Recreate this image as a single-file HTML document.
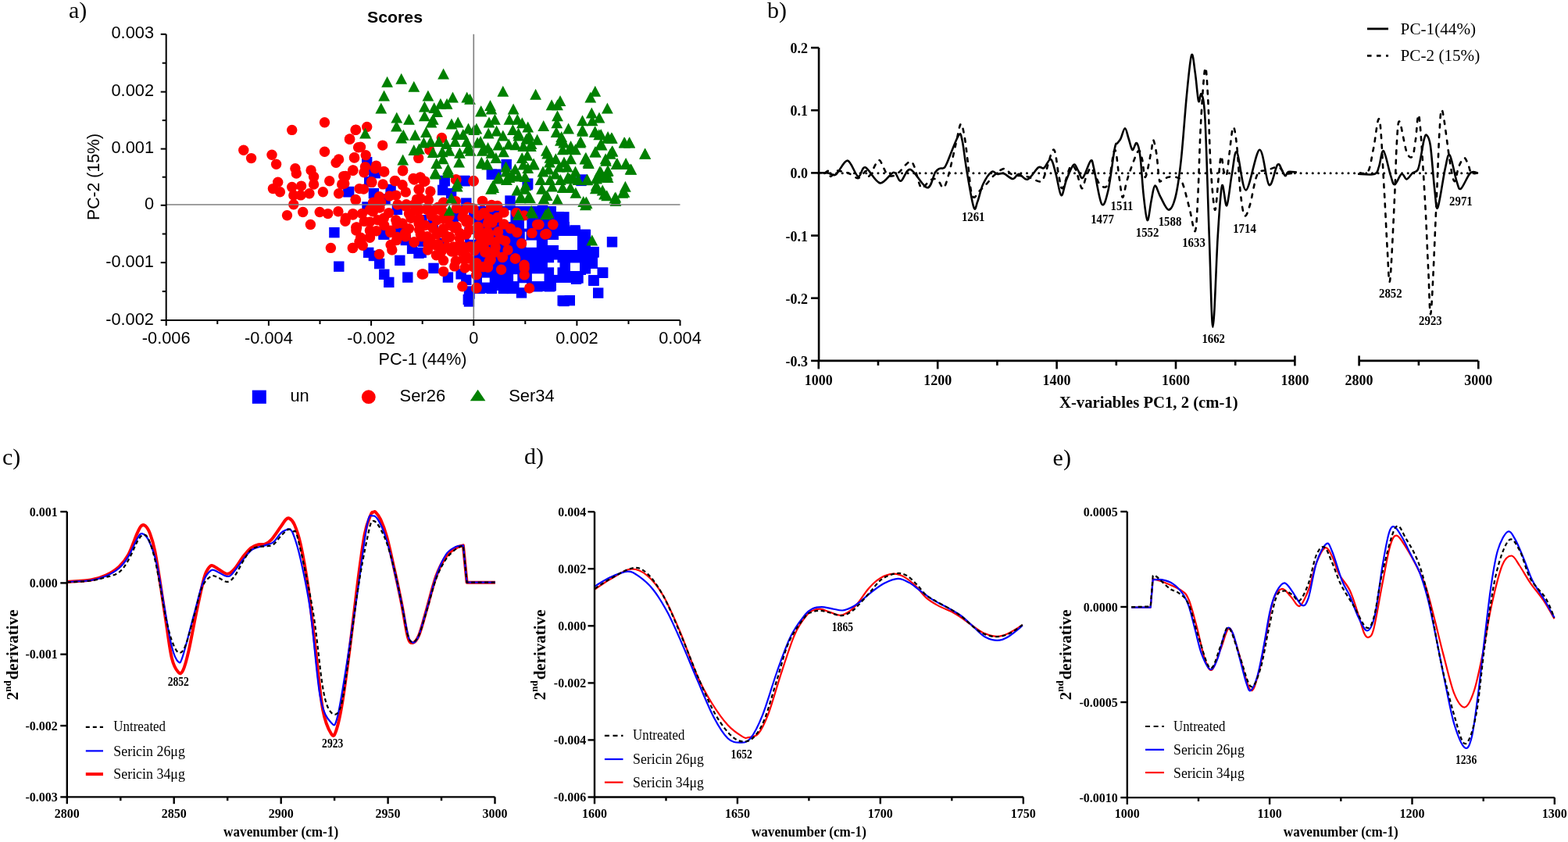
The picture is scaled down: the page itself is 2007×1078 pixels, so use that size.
<!DOCTYPE html>
<html><head><meta charset="utf-8"><title>Figure</title>
<style>html,body{margin:0;padding:0;background:#fff;overflow:hidden}svg{display:block}</style>
</head><body>
<svg width="2007" height="1078" viewBox="0 0 2007 1078">
<rect width="2007" height="1078" fill="#fff"/>
<text x="88" y="22.9" font-family="'Liberation Serif', 'Times New Roman', Times, serif" font-size="30">a)</text>
<text x="505.5" y="29.2" font-family="'Liberation Sans', Arial, Helvetica, sans-serif" font-size="20.5" text-anchor="middle" font-weight="bold" textLength="71" lengthAdjust="spacingAndGlyphs">Scores</text>
<g fill="#0000ff">
<path d="M606 264L712 264L712 271L722 271L722 284L729 284L729 290L743 290L743 296L756 296L756 316L765 316L765 344L750 344L750 352L743 352L743 362L712 362L712 372L606 372Z"/>
<rect x="421.2" y="291" width="13.4" height="13.4"/>
<rect x="427.1" y="334.5" width="13.4" height="13.4"/>
<rect x="463" y="200.9" width="13.4" height="13.4"/>
<rect x="473.3" y="212.8" width="13.4" height="13.4"/>
<rect x="562.4" y="224.7" width="13.4" height="13.4"/>
<rect x="587.6" y="224.7" width="13.4" height="13.4"/>
<rect x="466" y="226.1" width="13.4" height="13.4"/>
<rect x="473.4" y="215" width="13.4" height="13.4"/>
<rect x="641.5" y="203.9" width="13.4" height="13.4"/>
<rect x="628.2" y="216.5" width="13.4" height="13.4"/>
<rect x="669" y="228.4" width="13.4" height="13.4"/>
<rect x="737.3" y="224.7" width="13.4" height="13.4"/>
<rect x="668.4" y="230" width="13.4" height="13.4"/>
<rect x="738.5" y="223.3" width="13.4" height="13.4"/>
<rect x="439.1" y="239" width="13.4" height="13.4"/>
<rect x="471.7" y="213.3" width="13.4" height="13.4"/>
<rect x="440" y="238.8" width="13.4" height="13.4"/>
<rect x="471.7" y="240.9" width="13.4" height="13.4"/>
<rect x="493.4" y="235.8" width="13.4" height="13.4"/>
<rect x="501.7" y="261.7" width="13.4" height="13.4"/>
<rect x="484.2" y="293.4" width="13.4" height="13.4"/>
<rect x="504.3" y="291.8" width="13.4" height="13.4"/>
<rect x="463.3" y="258.3" width="13.4" height="13.4"/>
<rect x="531.8" y="275.1" width="13.4" height="13.4"/>
<rect x="486.3" y="248.3" width="13.4" height="13.4"/>
<rect x="562.5" y="225" width="13.4" height="13.4"/>
<rect x="588.4" y="225" width="13.4" height="13.4"/>
<rect x="560" y="236.7" width="13.4" height="13.4"/>
<rect x="570.9" y="240.9" width="13.4" height="13.4"/>
<rect x="590.1" y="253.4" width="13.4" height="13.4"/>
<rect x="580.1" y="269.2" width="13.4" height="13.4"/>
<rect x="573.4" y="272.6" width="13.4" height="13.4"/>
<rect x="600.1" y="271.7" width="13.4" height="13.4"/>
<rect x="613.5" y="276.7" width="13.4" height="13.4"/>
<rect x="547.5" y="280.9" width="13.4" height="13.4"/>
<rect x="533.3" y="275.1" width="13.4" height="13.4"/>
<rect x="594.3" y="290.9" width="13.4" height="13.4"/>
<rect x="622.6" y="216.6" width="13.4" height="13.4"/>
<rect x="465" y="316.7" width="13.4" height="13.4"/>
<rect x="471.7" y="320.8" width="13.4" height="13.4"/>
<rect x="479" y="330.9" width="13.4" height="13.4"/>
<rect x="485.1" y="344.6" width="13.4" height="13.4"/>
<rect x="491.1" y="354.7" width="13.4" height="13.4"/>
<rect x="505.1" y="326.7" width="13.4" height="13.4"/>
<rect x="515.1" y="348.4" width="13.4" height="13.4"/>
<rect x="485.1" y="293.3" width="13.4" height="13.4"/>
<rect x="520.9" y="311.7" width="13.4" height="13.4"/>
<rect x="529.3" y="317.5" width="13.4" height="13.4"/>
<rect x="512.6" y="300.8" width="13.4" height="13.4"/>
<rect x="505.1" y="290" width="13.4" height="13.4"/>
<rect x="532.5" y="316.7" width="13.4" height="13.4"/>
<rect x="535" y="302.5" width="13.4" height="13.4"/>
<rect x="548.3" y="336.7" width="13.4" height="13.4"/>
<rect x="566.7" y="348.4" width="13.4" height="13.4"/>
<rect x="583.4" y="344.2" width="13.4" height="13.4"/>
<rect x="590.1" y="351.7" width="13.4" height="13.4"/>
<rect x="605.9" y="323.4" width="13.4" height="13.4"/>
<rect x="619.3" y="303.3" width="13.4" height="13.4"/>
<rect x="606.8" y="361.8" width="13.4" height="13.4"/>
<rect x="620.1" y="361.8" width="13.4" height="13.4"/>
<rect x="594.3" y="369.3" width="13.4" height="13.4"/>
<rect x="592.6" y="376.8" width="13.4" height="13.4"/>
<rect x="595.1" y="298.3" width="13.4" height="13.4"/>
<rect x="621.8" y="350.1" width="13.4" height="13.4"/>
<rect x="560.9" y="305" width="13.4" height="13.4"/>
<rect x="593.8" y="366.3" width="13.4" height="13.4"/>
<rect x="593.8" y="379.3" width="13.4" height="13.4"/>
<rect x="607.4" y="362.7" width="13.4" height="13.4"/>
<rect x="622.6" y="362.7" width="13.4" height="13.4"/>
<rect x="637.8" y="362.7" width="13.4" height="13.4"/>
<rect x="648.2" y="362.7" width="13.4" height="13.4"/>
<rect x="660.8" y="368.2" width="13.4" height="13.4"/>
<rect x="681.2" y="360.1" width="13.4" height="13.4"/>
<rect x="696.8" y="360.1" width="13.4" height="13.4"/>
<rect x="713.5" y="378.2" width="13.4" height="13.4"/>
<rect x="715.2" y="271.2" width="13.4" height="13.4"/>
<rect x="712.3" y="279.3" width="13.4" height="13.4"/>
<rect x="729.3" y="288.2" width="13.4" height="13.4"/>
<rect x="742.7" y="294.2" width="13.4" height="13.4"/>
<rect x="776.8" y="303.1" width="13.4" height="13.4"/>
<rect x="730.8" y="304.6" width="13.4" height="13.4"/>
<rect x="753.1" y="316.4" width="13.4" height="13.4"/>
<rect x="743.3" y="316.3" width="13.4" height="13.4"/>
<rect x="720.4" y="322.4" width="13.4" height="13.4"/>
<rect x="702.6" y="316.4" width="13.4" height="13.4"/>
<rect x="687.8" y="313.5" width="13.4" height="13.4"/>
<rect x="687.8" y="329.8" width="13.4" height="13.4"/>
<rect x="713" y="341.7" width="13.4" height="13.4"/>
<rect x="730.8" y="350.6" width="13.4" height="13.4"/>
<rect x="742.7" y="337.2" width="13.4" height="13.4"/>
<rect x="753.1" y="352.1" width="13.4" height="13.4"/>
<rect x="765" y="342.4" width="13.4" height="13.4"/>
<rect x="759" y="368.4" width="13.4" height="13.4"/>
<rect x="698.1" y="359.5" width="13.4" height="13.4"/>
<rect x="684.8" y="359.5" width="13.4" height="13.4"/>
<rect x="715.2" y="378.8" width="13.4" height="13.4"/>
<rect x="722.6" y="378" width="13.4" height="13.4"/>
<rect x="701.1" y="292.7" width="13.4" height="13.4"/>
<rect x="687.8" y="263" width="13.4" height="13.4"/>
<rect x="698.1" y="334.3" width="13.4" height="13.4"/>
<rect x="646.3" y="250.3" width="13.4" height="13.4"/>
<rect x="742.2" y="293.6" width="13.4" height="13.4"/>
<rect x="753.3" y="315.9" width="13.4" height="13.4"/>
<rect x="737.8" y="315.9" width="13.4" height="13.4"/>
<rect x="742.2" y="335.9" width="13.4" height="13.4"/>
<rect x="764.5" y="342.6" width="13.4" height="13.4"/>
<rect x="753.3" y="352.6" width="13.4" height="13.4"/>
<rect x="733.3" y="349.3" width="13.4" height="13.4"/>
</g>
<g fill="#fff">
<rect x="680.9" y="350.4" width="15.6" height="9.7"/>
<rect x="709.1" y="332.6" width="4.4" height="19.3"/>
<rect x="700.9" y="336.3" width="15.6" height="6"/>
<rect x="657.1" y="351.2" width="5.2" height="8.9"/>
<rect x="617" y="355.6" width="9.7" height="6"/>
<rect x="664.6" y="362.3" width="9.6" height="5.9"/>
<rect x="715" y="302" width="24" height="18"/>
<rect x="701" y="307" width="14" height="7"/>
<rect x="730" y="336.5" width="12" height="10.5"/>
<rect x="640" y="269.2" width="13.4" height="15"/>
<rect x="671" y="281.7" width="3.3" height="10.9"/>
<rect x="671.8" y="296.7" width="1.7" height="10.1"/>
<rect x="673.5" y="307.6" width="13.3" height="9.2"/>
<rect x="600.5" y="300" width="7.8" height="6.8"/>
<rect x="610.9" y="275" width="3.3" height="6.7"/>
</g>
<g fill="#ff0000">
<circle cx="415.5" cy="156.7" r="6.7"/>
<circle cx="373.7" cy="166.4" r="6.7"/>
<circle cx="311.8" cy="192.2" r="6.7"/>
<circle cx="321.6" cy="202.6" r="6.7"/>
<circle cx="348" cy="198.2" r="6.7"/>
<circle cx="353.6" cy="210.3" r="6.7"/>
<circle cx="415.5" cy="194.3" r="6.7"/>
<circle cx="455.1" cy="166.4" r="6.7"/>
<circle cx="447.5" cy="178.3" r="6.7"/>
<circle cx="458.6" cy="188.7" r="6.7"/>
<circle cx="433.6" cy="204" r="6.7"/>
<circle cx="430.1" cy="208.2" r="6.7"/>
<circle cx="453.7" cy="201.9" r="6.7"/>
<circle cx="377.9" cy="215.8" r="6.7"/>
<circle cx="379.3" cy="222.1" r="6.7"/>
<circle cx="398.1" cy="217.9" r="6.7"/>
<circle cx="401.6" cy="226.3" r="6.7"/>
<circle cx="401.6" cy="236" r="6.7"/>
<circle cx="421.7" cy="231.8" r="6.7"/>
<circle cx="439.8" cy="225.6" r="6.7"/>
<circle cx="437.7" cy="236" r="6.7"/>
<circle cx="355.7" cy="233.2" r="6.7"/>
<circle cx="349.4" cy="241.6" r="6.7"/>
<circle cx="358.4" cy="245.7" r="6.7"/>
<circle cx="373.7" cy="239.5" r="6.7"/>
<circle cx="375.8" cy="249.9" r="6.7"/>
<circle cx="385.6" cy="238.1" r="6.7"/>
<circle cx="384.9" cy="249.9" r="6.7"/>
<circle cx="396" cy="247.8" r="6.7"/>
<circle cx="413.4" cy="245.7" r="6.7"/>
<circle cx="433.6" cy="247.8" r="6.7"/>
<circle cx="375.8" cy="261.7" r="6.7"/>
<circle cx="367.5" cy="275.7" r="6.7"/>
<circle cx="387.7" cy="271.5" r="6.7"/>
<circle cx="409.2" cy="271.5" r="6.7"/>
<circle cx="419.7" cy="273.6" r="6.7"/>
<circle cx="432.9" cy="270.8" r="6.7"/>
<circle cx="397.4" cy="287.5" r="6.7"/>
<circle cx="423.4" cy="317.4" r="6.7"/>
<circle cx="469.7" cy="162.4" r="6.7"/>
<circle cx="455.6" cy="166.1" r="6.7"/>
<circle cx="447.7" cy="177.9" r="6.7"/>
<circle cx="461.5" cy="188.3" r="6.7"/>
<circle cx="489.7" cy="186.1" r="6.7"/>
<circle cx="453.4" cy="201.7" r="6.7"/>
<circle cx="468.2" cy="198.7" r="6.7"/>
<circle cx="467.5" cy="213.6" r="6.7"/>
<circle cx="481.5" cy="212.1" r="6.7"/>
<circle cx="535.7" cy="202.4" r="6.7"/>
<circle cx="565.4" cy="176.5" r="6.7"/>
<circle cx="549.8" cy="192" r="6.7"/>
<circle cx="707.7" cy="287.6" r="6.7"/>
<circle cx="451.9" cy="218" r="6.7"/>
<circle cx="491.2" cy="219.5" r="6.7"/>
<circle cx="515.7" cy="218" r="6.7"/>
<circle cx="475.6" cy="232.8" r="6.7"/>
<circle cx="505.3" cy="231.4" r="6.7"/>
<circle cx="529" cy="228.4" r="6.7"/>
<circle cx="537.9" cy="226.9" r="6.7"/>
<circle cx="543.9" cy="232.1" r="6.7"/>
<circle cx="584" cy="229.9" r="6.7"/>
<circle cx="606.2" cy="231.4" r="6.7"/>
<circle cx="442.2" cy="225.4" r="6.7"/>
<circle cx="451.3" cy="317.4" r="6.7"/>
<circle cx="460" cy="309.4" r="6.7"/>
<circle cx="455.8" cy="291.2" r="6.7"/>
<circle cx="441.9" cy="283.3" r="6.7"/>
<circle cx="451.7" cy="273.6" r="6.7"/>
<circle cx="455.1" cy="255.5" r="6.7"/>
<circle cx="460" cy="241.6" r="6.7"/>
<circle cx="451.7" cy="218.3" r="6.7"/>
<circle cx="465.9" cy="220.8" r="6.7"/>
<circle cx="441.7" cy="225.9" r="6.7"/>
<circle cx="440.8" cy="235" r="6.7"/>
<circle cx="480.1" cy="215.8" r="6.7"/>
<circle cx="491.8" cy="220" r="6.7"/>
<circle cx="515.5" cy="218.8" r="6.7"/>
<circle cx="475.9" cy="233.4" r="6.7"/>
<circle cx="465.5" cy="242.1" r="6.7"/>
<circle cx="490.1" cy="235.9" r="6.7"/>
<circle cx="505.9" cy="231.7" r="6.7"/>
<circle cx="515.1" cy="236.7" r="6.7"/>
<circle cx="530.2" cy="230" r="6.7"/>
<circle cx="537.7" cy="227.5" r="6.7"/>
<circle cx="536" cy="242.5" r="6.7"/>
<circle cx="519.3" cy="245.9" r="6.7"/>
<circle cx="506.8" cy="250.1" r="6.7"/>
<circle cx="498.4" cy="250.9" r="6.7"/>
<circle cx="485.5" cy="251.7" r="6.7"/>
<circle cx="455.4" cy="255.9" r="6.7"/>
<circle cx="477.6" cy="259.2" r="6.7"/>
<circle cx="487.6" cy="259.2" r="6.7"/>
<circle cx="520.1" cy="261.7" r="6.7"/>
<circle cx="533.5" cy="255.1" r="6.7"/>
<circle cx="473.4" cy="268.4" r="6.7"/>
<circle cx="497.6" cy="272.6" r="6.7"/>
<circle cx="442.5" cy="279.3" r="6.7"/>
<circle cx="451.7" cy="275.1" r="6.7"/>
<circle cx="463.4" cy="273.4" r="6.7"/>
<circle cx="456.7" cy="291" r="6.7"/>
<circle cx="473.4" cy="284.3" r="6.7"/>
<circle cx="483.4" cy="281.8" r="6.7"/>
<circle cx="473.4" cy="295.1" r="6.7"/>
<circle cx="491.8" cy="288.5" r="6.7"/>
<circle cx="500.1" cy="295.1" r="6.7"/>
<circle cx="506.8" cy="281.8" r="6.7"/>
<circle cx="515.1" cy="286" r="6.7"/>
<circle cx="523.5" cy="273.4" r="6.7"/>
<circle cx="531.8" cy="269.3" r="6.7"/>
<circle cx="523.5" cy="292.6" r="6.7"/>
<circle cx="536" cy="286" r="6.7"/>
<circle cx="518.5" cy="298.5" r="6.7"/>
<circle cx="508.4" cy="303.5" r="6.7"/>
<circle cx="461.7" cy="304.3" r="6.7"/>
<circle cx="473.4" cy="303.5" r="6.7"/>
<circle cx="486" cy="266" r="6.7"/>
<circle cx="509" cy="262" r="6.7"/>
<circle cx="538.3" cy="227.5" r="6.7"/>
<circle cx="542.5" cy="232.5" r="6.7"/>
<circle cx="550.9" cy="245" r="6.7"/>
<circle cx="536.7" cy="242.5" r="6.7"/>
<circle cx="548.4" cy="255.9" r="6.7"/>
<circle cx="538.3" cy="254.2" r="6.7"/>
<circle cx="583.4" cy="230" r="6.7"/>
<circle cx="606" cy="232.1" r="6.7"/>
<circle cx="567.6" cy="259.2" r="6.7"/>
<circle cx="583.4" cy="257.6" r="6.7"/>
<circle cx="598.4" cy="265.1" r="6.7"/>
<circle cx="606" cy="267.6" r="6.7"/>
<circle cx="617.6" cy="257.6" r="6.7"/>
<circle cx="620.2" cy="273.4" r="6.7"/>
<circle cx="628.5" cy="265.1" r="6.7"/>
<circle cx="536.7" cy="268.4" r="6.7"/>
<circle cx="546.7" cy="268.4" r="6.7"/>
<circle cx="557.5" cy="268.4" r="6.7"/>
<circle cx="565.9" cy="270.1" r="6.7"/>
<circle cx="584.3" cy="266.8" r="6.7"/>
<circle cx="593.4" cy="270.1" r="6.7"/>
<circle cx="536.7" cy="280.1" r="6.7"/>
<circle cx="544.2" cy="288.5" r="6.7"/>
<circle cx="536.7" cy="294.3" r="6.7"/>
<circle cx="559.2" cy="281.8" r="6.7"/>
<circle cx="567.6" cy="280.1" r="6.7"/>
<circle cx="575.9" cy="288.5" r="6.7"/>
<circle cx="567.6" cy="292.6" r="6.7"/>
<circle cx="559.2" cy="298.5" r="6.7"/>
<circle cx="584.3" cy="290.1" r="6.7"/>
<circle cx="588.4" cy="298.5" r="6.7"/>
<circle cx="596.8" cy="284.3" r="6.7"/>
<circle cx="601" cy="294.3" r="6.7"/>
<circle cx="611.8" cy="290.1" r="6.7"/>
<circle cx="624.3" cy="286" r="6.7"/>
<circle cx="613.5" cy="301.8" r="6.7"/>
<circle cx="575.9" cy="303.5" r="6.7"/>
<circle cx="546.7" cy="302.6" r="6.7"/>
<circle cx="552" cy="276" r="6.7"/>
<circle cx="530" cy="262" r="6.7"/>
<circle cx="575" cy="277" r="6.7"/>
<circle cx="592" cy="278" r="6.7"/>
<circle cx="455.9" cy="295" r="6.7"/>
<circle cx="473.4" cy="304.2" r="6.7"/>
<circle cx="461.7" cy="308.8" r="6.7"/>
<circle cx="464.2" cy="314.2" r="6.7"/>
<circle cx="451.7" cy="317.5" r="6.7"/>
<circle cx="485.5" cy="325.5" r="6.7"/>
<circle cx="499.7" cy="297.5" r="6.7"/>
<circle cx="507.6" cy="307.5" r="6.7"/>
<circle cx="500.1" cy="313.4" r="6.7"/>
<circle cx="501.8" cy="320" r="6.7"/>
<circle cx="519.3" cy="300" r="6.7"/>
<circle cx="530.2" cy="310" r="6.7"/>
<circle cx="540.2" cy="351" r="6.7"/>
<circle cx="481.7" cy="295.8" r="6.7"/>
<circle cx="541.7" cy="350.9" r="6.7"/>
<circle cx="567.6" cy="347.6" r="6.7"/>
<circle cx="567.6" cy="333.4" r="6.7"/>
<circle cx="558.4" cy="326.7" r="6.7"/>
<circle cx="547.5" cy="320" r="6.7"/>
<circle cx="581.8" cy="340.9" r="6.7"/>
<circle cx="583.4" cy="334.2" r="6.7"/>
<circle cx="593.4" cy="331.7" r="6.7"/>
<circle cx="591.8" cy="366.8" r="6.7"/>
<circle cx="610.1" cy="368.5" r="6.7"/>
<circle cx="606" cy="341.7" r="6.7"/>
<circle cx="610.1" cy="350.9" r="6.7"/>
<circle cx="618.5" cy="341.7" r="6.7"/>
<circle cx="626" cy="335.1" r="6.7"/>
<circle cx="621.8" cy="320.9" r="6.7"/>
<circle cx="611.8" cy="315.9" r="6.7"/>
<circle cx="530" cy="310" r="6.7"/>
<circle cx="538.3" cy="300" r="6.7"/>
<circle cx="550.9" cy="307.5" r="6.7"/>
<circle cx="559.2" cy="300" r="6.7"/>
<circle cx="571.7" cy="305" r="6.7"/>
<circle cx="580.1" cy="315.9" r="6.7"/>
<circle cx="588.4" cy="305" r="6.7"/>
<circle cx="592.6" cy="315.9" r="6.7"/>
<circle cx="601" cy="315.9" r="6.7"/>
<circle cx="596.8" cy="300" r="6.7"/>
<circle cx="613.5" cy="300" r="6.7"/>
<circle cx="626" cy="300" r="6.7"/>
<circle cx="571.7" cy="316.7" r="6.7"/>
<circle cx="565.1" cy="321.7" r="6.7"/>
<circle cx="617.5" cy="257.5" r="6.7"/>
<circle cx="636.7" cy="263.4" r="6.7"/>
<circle cx="629.2" cy="262.5" r="6.7"/>
<circle cx="605" cy="266.7" r="6.7"/>
<circle cx="619.2" cy="272.5" r="6.7"/>
<circle cx="636.7" cy="278.4" r="6.7"/>
<circle cx="630" cy="285.1" r="6.7"/>
<circle cx="612.5" cy="291.7" r="6.7"/>
<circle cx="600" cy="283.4" r="6.7"/>
<circle cx="624.2" cy="296.7" r="6.7"/>
<circle cx="637.6" cy="296.7" r="6.7"/>
<circle cx="613.4" cy="301.8" r="6.7"/>
<circle cx="646.7" cy="308.4" r="6.7"/>
<circle cx="653.4" cy="292.6" r="6.7"/>
<circle cx="661.8" cy="297.6" r="6.7"/>
<circle cx="613.4" cy="313.4" r="6.7"/>
<circle cx="602.5" cy="316" r="6.7"/>
<circle cx="621.7" cy="321" r="6.7"/>
<circle cx="634.2" cy="316.8" r="6.7"/>
<circle cx="643.4" cy="329.3" r="6.7"/>
<circle cx="627.5" cy="332.6" r="6.7"/>
<circle cx="610" cy="336.8" r="6.7"/>
<circle cx="667.6" cy="311.8" r="6.7"/>
<circle cx="659.7" cy="331" r="6.7"/>
<circle cx="681" cy="298.4" r="6.7"/>
<circle cx="687.6" cy="287.6" r="6.7"/>
<circle cx="697.7" cy="300.1" r="6.7"/>
<circle cx="660.9" cy="272.5" r="6.7"/>
<circle cx="671" cy="275.9" r="6.7"/>
<circle cx="671" cy="339.3" r="6.7"/>
<circle cx="659.4" cy="331.1" r="6.7"/>
<circle cx="671.2" cy="343" r="6.7"/>
<circle cx="671.2" cy="351.9" r="6.7"/>
<circle cx="677.6" cy="369" r="6.7"/>
<circle cx="609.6" cy="369" r="6.7"/>
<circle cx="609.6" cy="351.9" r="6.7"/>
<circle cx="608.9" cy="340.8" r="6.7"/>
<circle cx="624.5" cy="342.3" r="6.7"/>
<circle cx="641.6" cy="345.2" r="6.7"/>
<circle cx="628.2" cy="332.6" r="6.7"/>
<circle cx="643" cy="329.6" r="6.7"/>
<circle cx="620.8" cy="323" r="6.7"/>
<circle cx="633.4" cy="323" r="6.7"/>
<circle cx="600" cy="331.1" r="6.7"/>
<circle cx="607.4" cy="320.7" r="6.7"/>
<circle cx="690" cy="287.5" r="6.7"/>
<circle cx="707.8" cy="287.5" r="6.7"/>
<circle cx="699.6" cy="299.4" r="6.7"/>
<circle cx="558" cy="314" r="6.7"/>
<circle cx="578" cy="322" r="6.7"/>
<circle cx="588" cy="320" r="6.7"/>
<circle cx="548" cy="312" r="6.7"/>
<circle cx="613" cy="276" r="6.7"/>
<circle cx="645" cy="272" r="6.7"/>
<circle cx="626" cy="280" r="6.7"/>
<circle cx="645" cy="287" r="6.7"/>
<circle cx="622" cy="309" r="6.7"/>
<circle cx="640" cy="306" r="6.7"/>
<circle cx="650" cy="320" r="6.7"/>
<circle cx="633" cy="310" r="6.7"/>
<circle cx="571" cy="302" r="6.7"/>
<circle cx="593" cy="325" r="6.7"/>
<circle cx="595" cy="343" r="6.7"/>
<circle cx="597" cy="281" r="6.7"/>
<circle cx="526" cy="279.2" r="6.7"/>
<circle cx="508" cy="286.2" r="6.7"/>
<circle cx="466.3" cy="283.4" r="6.7"/>
<circle cx="477.4" cy="270.9" r="6.7"/>
<circle cx="491.3" cy="279.2" r="6.7"/>
<circle cx="519.1" cy="302.9" r="6.7"/>
<circle cx="540" cy="302.9" r="6.7"/>
<circle cx="553.9" cy="291.7" r="6.7"/>
<circle cx="581.7" cy="291.7" r="6.7"/>
<circle cx="560.9" cy="312.6" r="6.7"/>
<circle cx="588.7" cy="312.6" r="6.7"/>
<circle cx="595.7" cy="326.5" r="6.7"/>
<circle cx="581.7" cy="322.3" r="6.7"/>
<circle cx="519.1" cy="263.9" r="6.7"/>
<circle cx="533" cy="262.5" r="6.7"/>
<circle cx="547" cy="266.7" r="6.7"/>
<circle cx="560.9" cy="265.3" r="6.7"/>
</g>
<g fill="#008000">
<path d="M567.6 87.4L575 101.4L560.2 101.4Z"/>
<path d="M495.6 97.8L503 111.8L488.2 111.8Z"/>
<path d="M513.7 93.8L521.1 107.8L506.3 107.8Z"/>
<path d="M529.8 103.7L537.2 117.7L522.4 117.7Z"/>
<path d="M491.6 115.6L499 129.6L484.2 129.6Z"/>
<path d="M487.8 131.6L495.2 145.6L480.4 145.6Z"/>
<path d="M547.9 115.6L555.3 129.6L540.5 129.6Z"/>
<path d="M579.5 117.5L586.9 131.5L572.1 131.5Z"/>
<path d="M597.7 117.5L605.1 131.5L590.3 131.5Z"/>
<path d="M563.9 125.7L571.3 139.7L556.5 139.7Z"/>
<path d="M572.1 125.7L579.5 139.7L564.7 139.7Z"/>
<path d="M543.4 129.4L550.8 143.4L536 143.4Z"/>
<path d="M555.7 130.9L563.1 144.9L548.3 144.9Z"/>
<path d="M559.5 136.1L566.9 150.1L552.1 150.1Z"/>
<path d="M543.4 141.3L550.8 155.3L536 155.3Z"/>
<path d="M554.3 145.7L561.7 159.7L546.9 159.7Z"/>
<path d="M507.8 143.5L515.2 157.5L500.4 157.5Z"/>
<path d="M523.5 145.7L530.9 159.7L516.1 159.7Z"/>
<path d="M507.5 154.6L514.9 168.6L500.1 168.6Z"/>
<path d="M578 151.6L585.4 165.6L570.6 165.6Z"/>
<path d="M586.2 149.4L593.6 163.4L578.8 163.4Z"/>
<path d="M615.8 135.3L623.2 149.3L608.4 149.3Z"/>
<path d="M467.5 163.5L474.9 177.5L460.1 177.5Z"/>
<path d="M516.4 165.7L523.8 179.7L509 179.7Z"/>
<path d="M513.7 169.5L521.1 183.5L506.3 183.5Z"/>
<path d="M531.3 165.7L538.7 179.7L523.9 179.7Z"/>
<path d="M545.4 162L552.8 176L538 176Z"/>
<path d="M552 149.4L559.4 163.4L544.6 163.4Z"/>
<path d="M599.5 157.6L606.9 171.6L592.1 171.6Z"/>
<path d="M609.9 157.6L617.3 171.6L602.5 171.6Z"/>
<path d="M584.7 165L592.1 179L577.3 179Z"/>
<path d="M592.8 165L600.2 179L585.4 179Z"/>
<path d="M542.4 175.4L549.8 189.4L535 189.4Z"/>
<path d="M551.3 173.9L558.7 187.9L543.9 187.9Z"/>
<path d="M561.7 173.9L569.1 187.9L554.3 187.9Z"/>
<path d="M571.3 176.9L578.7 190.9L563.9 190.9Z"/>
<path d="M582.5 173.9L589.9 187.9L575.1 187.9Z"/>
<path d="M597.3 173.9L604.7 187.9L589.9 187.9Z"/>
<path d="M615.1 173.9L622.5 187.9L607.7 187.9Z"/>
<path d="M529.8 185L537.2 199L522.4 199Z"/>
<path d="M536.5 183.5L543.9 197.5L529.1 197.5Z"/>
<path d="M554.3 188L561.7 202L546.9 202Z"/>
<path d="M566.1 187.3L573.5 201.3L558.7 201.3Z"/>
<path d="M575 185.8L582.4 199.8L567.6 199.8Z"/>
<path d="M588.4 188.7L595.8 202.7L581 202.7Z"/>
<path d="M598.8 182.8L606.2 196.8L591.4 196.8Z"/>
<path d="M617.3 185.8L624.7 199.8L609.9 199.8Z"/>
<path d="M515.7 197.6L523.1 211.6L508.3 211.6Z"/>
<path d="M558.7 202.1L566.1 216.1L551.3 216.1Z"/>
<path d="M566.9 196.2L574.3 210.2L559.5 210.2Z"/>
<path d="M587.6 200.6L595 214.6L580.2 214.6Z"/>
<path d="M616.6 202.1L624 216.1L609.2 216.1Z"/>
<path d="M573.5 209.5L580.9 223.5L566.1 223.5Z"/>
<path d="M557.2 214L564.6 228L549.8 228Z"/>
<path d="M585.4 227.3L592.8 241.3L578 241.3Z"/>
<path d="M643.8 109.8L651.2 123.8L636.4 123.8Z"/>
<path d="M685.6 113.8L693 127.8L678.2 127.8Z"/>
<path d="M761.8 109.8L769.2 123.8L754.4 123.8Z"/>
<path d="M755.8 117.5L763.2 131.5L748.4 131.5Z"/>
<path d="M717 122L724.4 136L709.6 136Z"/>
<path d="M706.1 127.2L713.5 141.2L698.7 141.2Z"/>
<path d="M713.5 127.2L720.9 141.2L706.1 141.2Z"/>
<path d="M777.4 131.6L784.8 145.6L770 145.6Z"/>
<path d="M601.5 119.8L608.9 133.8L594.1 133.8Z"/>
<path d="M627.5 127.9L634.9 141.9L620.1 141.9Z"/>
<path d="M615.6 135.3L623 149.3L608.2 149.3Z"/>
<path d="M628.9 132.4L636.3 146.4L621.5 146.4Z"/>
<path d="M657.1 132.4L664.5 146.4L649.7 146.4Z"/>
<path d="M757.3 137.6L764.7 151.6L749.9 151.6Z"/>
<path d="M767 143.5L774.4 157.5L759.6 157.5Z"/>
<path d="M713.5 141.3L720.9 155.3L706.1 155.3Z"/>
<path d="M745.5 147.2L752.9 161.2L738.1 161.2Z"/>
<path d="M758.1 147.2L765.5 161.2L750.7 161.2Z"/>
<path d="M626 149.4L633.4 163.4L618.6 163.4Z"/>
<path d="M633.4 145.7L640.8 159.7L626 159.7Z"/>
<path d="M651.9 145.7L659.3 159.7L644.5 159.7Z"/>
<path d="M662.3 145.7L669.7 159.7L654.9 159.7Z"/>
<path d="M668.3 150.2L675.7 164.2L660.9 164.2Z"/>
<path d="M675.7 155.4L683.1 169.4L668.3 169.4Z"/>
<path d="M695.7 153.9L703.1 167.9L688.3 167.9Z"/>
<path d="M712.8 150.2L720.2 164.2L705.4 164.2Z"/>
<path d="M727.6 157.6L735 171.6L720.2 171.6Z"/>
<path d="M745.5 159.1L752.9 173.1L738.1 173.1Z"/>
<path d="M761.8 161.3L769.2 175.3L754.4 175.3Z"/>
<path d="M769.2 165L776.6 179L761.8 179Z"/>
<path d="M778.1 168L785.5 182L770.7 182Z"/>
<path d="M782.6 169.5L790 183.5L775.2 183.5Z"/>
<path d="M799.6 175.4L807 189.4L792.2 189.4Z"/>
<path d="M805.6 175.4L813 189.4L798.2 189.4Z"/>
<path d="M825.6 189.5L833 203.5L818.2 203.5Z"/>
<path d="M606.7 159.1L614.1 173.1L599.3 173.1Z"/>
<path d="M625.2 163.5L632.6 177.5L617.8 177.5Z"/>
<path d="M635.6 160.6L643 174.6L628.2 174.6Z"/>
<path d="M643.8 166.5L651.2 180.5L636.4 180.5Z"/>
<path d="M656.4 159.1L663.8 173.1L649 173.1Z"/>
<path d="M663.8 166.5L671.2 180.5L656.4 180.5Z"/>
<path d="M677.2 166.5L684.6 180.5L669.8 180.5Z"/>
<path d="M687.6 171.7L695 185.7L680.2 185.7Z"/>
<path d="M712.1 162L719.5 176L704.7 176Z"/>
<path d="M718.7 168L726.1 182L711.3 182Z"/>
<path d="M721.7 175.4L729.1 189.4L714.3 189.4Z"/>
<path d="M730.6 179.9L738 193.9L723.2 193.9Z"/>
<path d="M742.5 175.4L749.9 189.4L735.1 189.4Z"/>
<path d="M769.2 176.9L776.6 190.9L761.8 190.9Z"/>
<path d="M784 186.5L791.4 200.5L776.6 200.5Z"/>
<path d="M611.1 175.4L618.5 189.4L603.7 189.4Z"/>
<path d="M619.3 182.8L626.7 196.8L611.9 196.8Z"/>
<path d="M637.8 178.4L645.2 192.4L630.4 192.4Z"/>
<path d="M651.2 177.6L658.6 191.6L643.8 191.6Z"/>
<path d="M669.8 179.9L677.2 193.9L662.4 193.9Z"/>
<path d="M680.1 176.9L687.5 190.9L672.7 190.9Z"/>
<path d="M699.4 185.8L706.8 199.8L692 199.8Z"/>
<path d="M720.2 184.3L727.6 198.3L712.8 198.3Z"/>
<path d="M736.5 184.3L743.9 198.3L729.1 198.3Z"/>
<path d="M761.8 187.3L769.2 201.3L754.4 201.3Z"/>
<path d="M775.1 196.2L782.5 210.2L767.7 210.2Z"/>
<path d="M602.2 185.8L609.6 199.8L594.8 199.8Z"/>
<path d="M628.9 188.7L636.3 202.7L621.5 202.7Z"/>
<path d="M644.5 187.3L651.9 201.3L637.1 201.3Z"/>
<path d="M675 191.7L682.4 205.7L667.6 205.7Z"/>
<path d="M703.9 194.7L711.3 208.7L696.5 208.7Z"/>
<path d="M711.3 196.2L718.7 210.2L703.9 210.2Z"/>
<path d="M730.6 196.2L738 210.2L723.2 210.2Z"/>
<path d="M749.9 194.7L757.3 208.7L742.5 208.7Z"/>
<path d="M752.9 200.6L760.3 214.6L745.5 214.6Z"/>
<path d="M790 202.1L797.4 216.1L782.6 216.1Z"/>
<path d="M801.1 202.1L808.5 216.1L793.7 216.1Z"/>
<path d="M807 209.5L814.4 223.5L799.6 223.5Z"/>
<path d="M616.3 200.6L623.7 214.6L608.9 214.6Z"/>
<path d="M623.7 203.6L631.1 217.6L616.3 217.6Z"/>
<path d="M647.5 206.6L654.9 220.6L640.1 220.6Z"/>
<path d="M659.4 209.5L666.8 223.5L652 223.5Z"/>
<path d="M669.8 203.6L677.2 217.6L662.4 217.6Z"/>
<path d="M683.1 203.6L690.5 217.6L675.7 217.6Z"/>
<path d="M695 212.5L702.4 226.5L687.6 226.5Z"/>
<path d="M702.4 209.5L709.8 223.5L695 223.5Z"/>
<path d="M715.8 206.6L723.2 220.6L708.4 220.6Z"/>
<path d="M726.2 206.6L733.6 220.6L718.8 220.6Z"/>
<path d="M736.5 212.5L743.9 226.5L729.1 226.5Z"/>
<path d="M767.7 212.5L775.1 226.5L760.3 226.5Z"/>
<path d="M778.1 211L785.5 225L770.7 225Z"/>
<path d="M637.1 221.4L644.5 235.4L629.7 235.4Z"/>
<path d="M651.9 219.9L659.3 233.9L644.5 233.9Z"/>
<path d="M663.8 218.5L671.2 232.5L656.4 232.5Z"/>
<path d="M692 222.9L699.4 236.9L684.6 236.9Z"/>
<path d="M703.9 222.9L711.3 236.9L696.5 236.9Z"/>
<path d="M717.3 222.9L724.7 236.9L709.9 236.9Z"/>
<path d="M729.1 221.4L736.5 235.4L721.7 235.4Z"/>
<path d="M740 222.9L747.4 236.9L732.6 236.9Z"/>
<path d="M751.4 222.9L758.8 236.9L744 236.9Z"/>
<path d="M763.3 221.4L770.7 235.4L755.9 235.4Z"/>
<path d="M778.1 219.9L785.5 233.9L770.7 233.9Z"/>
<path d="M631.2 230.3L638.6 244.3L623.8 244.3Z"/>
<path d="M672.7 230.3L680.1 244.3L665.3 244.3Z"/>
<path d="M763.3 230.3L770.7 244.3L755.9 244.3Z"/>
<path d="M800.4 231.8L807.8 245.8L793 245.8Z"/>
<path d="M557.7 215.5L565.1 229.5L550.3 229.5Z"/>
<path d="M573.6 213.8L581 227.8L566.2 227.8Z"/>
<path d="M585.3 231.4L592.7 245.4L577.9 245.4Z"/>
<path d="M577.8 246.4L585.2 260.4L570.4 260.4Z"/>
<path d="M575.2 262.3L582.6 276.3L567.8 276.3Z"/>
<path d="M631.7 233L639.1 247L624.3 247Z"/>
<path d="M638.4 219.7L645.8 233.7L631 233.7Z"/>
<path d="M648.4 223L655.8 237L641 237Z"/>
<path d="M655.1 216.3L662.5 230.3L647.7 230.3Z"/>
<path d="M661.8 236.4L669.2 250.4L654.4 250.4Z"/>
<path d="M671.8 234.7L679.2 248.7L664.4 248.7Z"/>
<path d="M666.8 244.7L674.2 258.7L659.4 258.7Z"/>
<path d="M676.8 244.7L684.2 258.7L669.4 258.7Z"/>
<path d="M693.5 234.7L700.9 248.7L686.1 248.7Z"/>
<path d="M700.2 243.1L707.6 257.1L692.8 257.1Z"/>
<path d="M706.8 231.4L714.2 245.4L699.4 245.4Z"/>
<path d="M713.5 248.1L720.9 262.1L706.1 262.1Z"/>
<path d="M720.2 233L727.6 247L712.8 247Z"/>
<path d="M730.2 233L737.6 247L722.8 247Z"/>
<path d="M736.9 239.7L744.3 253.7L729.5 253.7Z"/>
<path d="M726.9 219.7L734.3 233.7L719.5 233.7Z"/>
<path d="M733.5 219.7L740.9 233.7L726.1 233.7Z"/>
<path d="M750.3 251.4L757.7 265.4L742.9 265.4Z"/>
<path d="M751.9 223L759.3 237L744.5 237Z"/>
<path d="M763.6 233L771 247L756.2 247Z"/>
<path d="M773.6 241.4L781 255.4L766.2 255.4Z"/>
<path d="M766.9 219.7L774.3 233.7L759.5 233.7Z"/>
<path d="M776.9 216.3L784.3 230.3L769.5 230.3Z"/>
<path d="M786.9 246.4L794.3 260.4L779.5 260.4Z"/>
<path d="M796.9 239.7L804.3 253.7L789.5 253.7Z"/>
<path d="M663.4 268.1L670.8 282.1L656 282.1Z"/>
<path d="M680.1 263.1L687.5 277.1L672.7 277.1Z"/>
<path d="M701.8 264.8L709.2 278.8L694.4 278.8Z"/>
<path d="M757.8 300.6L765.2 314.6L750.4 314.6Z"/>
<path d="M745.6 160.8L753 174.8L738.2 174.8Z"/>
<path d="M761.2 161.9L768.6 175.9L753.8 175.9Z"/>
<path d="M766.7 165.2L774.1 179.2L759.3 179.2Z"/>
<path d="M777.9 169.7L785.3 183.7L770.5 183.7Z"/>
<path d="M783.4 169.7L790.8 183.7L776 183.7Z"/>
<path d="M799 175.3L806.4 189.3L791.6 189.3Z"/>
<path d="M805.7 175.3L813.1 189.3L798.3 189.3Z"/>
<path d="M825.7 189.7L833.1 203.7L818.3 203.7Z"/>
<path d="M743.3 174.2L750.7 188.2L735.9 188.2Z"/>
<path d="M770.1 178.6L777.5 192.6L762.7 192.6Z"/>
<path d="M762.3 187.5L769.7 201.5L754.9 201.5Z"/>
<path d="M783.4 186.4L790.8 200.4L776 200.4Z"/>
<path d="M781.2 189.7L788.6 203.7L773.8 203.7Z"/>
<path d="M748.9 196.4L756.3 210.4L741.5 210.4Z"/>
<path d="M753.4 202L760.8 216L746 216Z"/>
<path d="M775.6 198.7L783 212.7L768.2 212.7Z"/>
<path d="M789 203.1L796.4 217.1L781.6 217.1Z"/>
<path d="M801.2 203.1L808.6 217.1L793.8 217.1Z"/>
<path d="M807.9 209.8L815.3 223.8L800.5 223.8Z"/>
<path d="M769 213.1L776.4 227.1L761.6 227.1Z"/>
<path d="M777.9 212L785.3 226L770.5 226Z"/>
<path d="M775.6 217.6L783 231.6L768.2 231.6Z"/>
<path d="M763.4 220.9L770.8 234.9L756 234.9Z"/>
<path d="M751.1 223.2L758.5 237.2L743.7 237.2Z"/>
<path d="M762.3 234.3L769.7 248.3L754.9 248.3Z"/>
<path d="M771.2 236.5L778.6 250.5L763.8 250.5Z"/>
<path d="M776.7 243.2L784.1 257.2L769.3 257.2Z"/>
<path d="M787.9 245.4L795.3 259.4L780.5 259.4Z"/>
<path d="M799 238.7L806.4 252.7L791.6 252.7Z"/>
<path d="M746.7 251L754.1 265L739.3 265Z"/>
<path d="M751.1 253.2L758.5 267.2L743.7 267.2Z"/>
<path d="M788 250L795.4 264L780.6 264Z"/>
<path d="M624.6 182L632 196L617.2 196Z"/>
<path d="M623.7 202.4L631.1 216.4L616.3 216.4Z"/>
<path d="M634.8 195L642.2 209L627.4 209Z"/>
<path d="M663.6 163.4L671 177.4L656.2 177.4Z"/>
<path d="M659.9 178.3L667.3 192.3L652.5 192.3Z"/>
<path d="M673.8 170.8L681.2 184.8L666.4 184.8Z"/>
<path d="M679.4 180.1L686.8 194.1L672 194.1Z"/>
<path d="M668.2 195L675.6 209L660.8 209Z"/>
<path d="M675.7 208L683.1 222L668.3 222Z"/>
<path d="M683.1 202.4L690.5 216.4L675.7 216.4Z"/>
<path d="M672 219L679.4 233L664.6 233Z"/>
<path d="M647.8 212.6L655.2 226.6L640.4 226.6Z"/>
<path d="M655.3 217.2L662.7 231.2L647.9 231.2Z"/>
<path d="M703.5 200.5L710.9 214.5L696.1 214.5Z"/>
<path d="M710.9 215.4L718.3 229.4L703.5 229.4Z"/>
<path d="M722 200.5L729.4 214.5L714.6 214.5Z"/>
<path d="M729.5 183.8L736.9 197.8L722.1 197.8Z"/>
<path d="M717.4 172.7L724.8 186.7L710 186.7Z"/>
<path d="M700.7 189.4L708.1 203.4L693.3 203.4Z"/>
<path d="M557.5 214.7L564.9 228.7L550.1 228.7Z"/>
<path d="M573.4 212.2L580.8 226.2L566 226.2Z"/>
<path d="M628.5 234.7L635.9 248.7L621.1 248.7Z"/>
<path d="M663.4 268L670.8 282L656 282Z"/>
<path d="M681.8 265.5L689.2 279.5L674.4 279.5Z"/>
<path d="M666 246.3L673.4 260.3L658.6 260.3Z"/>
<path d="M678.5 246.3L685.9 260.3L671.1 260.3Z"/>
<path d="M696 247.2L703.4 261.2L688.6 261.2Z"/>
<path d="M698.5 267.2L705.9 281.2L691.1 281.2Z"/>
<path d="M701.9 265.7L709.3 279.7L694.5 279.7Z"/>
<path d="M749.4 255.3L756.8 269.3L742 269.3Z"/>
</g>
<line x1="212.7" y1="262" x2="870.5" y2="262" stroke="#7f7f7f" stroke-width="1.6"/>
<line x1="606.3" y1="43.8" x2="606.3" y2="410" stroke="#7f7f7f" stroke-width="1.6"/>
<g stroke="#000" stroke-width="2" fill="none">
<path d="M212.7 43.8L212.7 410L870.5 410"/>
<line x1="205.7" y1="43.8" x2="212.7" y2="43.8"/>
<line x1="207.7" y1="80.7" x2="212.7" y2="80.7"/>
<line x1="205.7" y1="117.6" x2="212.7" y2="117.6"/>
<line x1="207.7" y1="154.1" x2="212.7" y2="154.1"/>
<line x1="205.7" y1="190.6" x2="212.7" y2="190.6"/>
<line x1="207.7" y1="226.7" x2="212.7" y2="226.7"/>
<line x1="205.7" y1="262.8" x2="212.7" y2="262.8"/>
<line x1="207.7" y1="299.5" x2="212.7" y2="299.5"/>
<line x1="205.7" y1="336.2" x2="212.7" y2="336.2"/>
<line x1="207.7" y1="373.1" x2="212.7" y2="373.1"/>
<line x1="205.7" y1="410" x2="212.7" y2="410"/>
<line x1="212.7" y1="410" x2="212.7" y2="417"/>
<line x1="278.3" y1="410" x2="278.3" y2="415"/>
<line x1="343.9" y1="410" x2="343.9" y2="417"/>
<line x1="409.5" y1="410" x2="409.5" y2="415"/>
<line x1="475.1" y1="410" x2="475.1" y2="417"/>
<line x1="540.7" y1="410" x2="540.7" y2="415"/>
<line x1="606.3" y1="410" x2="606.3" y2="417"/>
<line x1="672.3" y1="410" x2="672.3" y2="415"/>
<line x1="738.4" y1="410" x2="738.4" y2="417"/>
<line x1="804.5" y1="410" x2="804.5" y2="415"/>
<line x1="870.5" y1="410" x2="870.5" y2="417"/>
</g>
<text x="197" y="49.3" font-family="'Liberation Sans', Arial, Helvetica, sans-serif" font-size="21.8" text-anchor="end">0.003</text>
<text x="197" y="123.1" font-family="'Liberation Sans', Arial, Helvetica, sans-serif" font-size="21.8" text-anchor="end">0.002</text>
<text x="197" y="196.1" font-family="'Liberation Sans', Arial, Helvetica, sans-serif" font-size="21.8" text-anchor="end">0.001</text>
<text x="197" y="268.3" font-family="'Liberation Sans', Arial, Helvetica, sans-serif" font-size="21.8" text-anchor="end">0</text>
<text x="197" y="341.7" font-family="'Liberation Sans', Arial, Helvetica, sans-serif" font-size="21.8" text-anchor="end">-0.001</text>
<text x="197" y="415.5" font-family="'Liberation Sans', Arial, Helvetica, sans-serif" font-size="21.8" text-anchor="end">-0.002</text>
<text x="212.7" y="439.5" font-family="'Liberation Sans', Arial, Helvetica, sans-serif" font-size="21.8" text-anchor="middle">-0.006</text>
<text x="343.9" y="439.5" font-family="'Liberation Sans', Arial, Helvetica, sans-serif" font-size="21.8" text-anchor="middle">-0.004</text>
<text x="475.1" y="439.5" font-family="'Liberation Sans', Arial, Helvetica, sans-serif" font-size="21.8" text-anchor="middle">-0.002</text>
<text x="606.3" y="439.5" font-family="'Liberation Sans', Arial, Helvetica, sans-serif" font-size="21.8" text-anchor="middle">0</text>
<text x="738.4" y="439.5" font-family="'Liberation Sans', Arial, Helvetica, sans-serif" font-size="21.8" text-anchor="middle">0.002</text>
<text x="870.5" y="439.5" font-family="'Liberation Sans', Arial, Helvetica, sans-serif" font-size="21.8" text-anchor="middle">0.004</text>
<text x="541" y="466.6" font-family="'Liberation Sans', Arial, Helvetica, sans-serif" font-size="21.8" text-anchor="middle" textLength="113" lengthAdjust="spacingAndGlyphs">PC-1 (44%)</text>
<text transform="translate(127.2 226.5) rotate(-90)" font-family="'Liberation Sans', Arial, Helvetica, sans-serif" font-size="21.8" text-anchor="middle" textLength="111" lengthAdjust="spacingAndGlyphs">PC-2 (15%)</text>
<rect x="322.8" y="499.6" width="18" height="17.2" fill="#0000ff"/>
<text x="371.5" y="513.6" font-family="'Liberation Sans', Arial, Helvetica, sans-serif" font-size="21.8">un</text>
<circle cx="471.8" cy="508.2" r="8.9" fill="#ff0000"/>
<text x="511.5" y="513.6" font-family="'Liberation Sans', Arial, Helvetica, sans-serif" font-size="21.8" textLength="58.6" lengthAdjust="spacingAndGlyphs">Ser26</text>
<path d="M611.6 498.8L621.4 513.2L601.8 513.2Z" fill="#008000"/>
<text x="651.2" y="513.6" font-family="'Liberation Sans', Arial, Helvetica, sans-serif" font-size="21.8" textLength="58.6" lengthAdjust="spacingAndGlyphs">Ser34</text>
<text x="982" y="22.7" font-family="'Liberation Serif', 'Times New Roman', Times, serif" font-size="30">b)</text>
<line x1="1047.8" y1="221.7" x2="1892" y2="221.7" stroke="#000" stroke-width="3.1" stroke-linecap="round" stroke-dasharray="0,7.62"/>
<g fill="none" stroke="#000" stroke-width="2.6" stroke-linejoin="round">
<path d="M1048.5 221.4C1050.3 221.4 1055.9 221.1 1059.5 221.4C1063.1 221.7 1065.7 226 1069.9 223.4C1074.1 220.8 1080 205.2 1084.8 205.6C1089.5 206 1094.6 224.6 1098.4 226C1102.2 227.4 1102.8 212.9 1107.5 214.3C1112.2 215.7 1120.3 233.3 1126.4 234.4C1132.5 235.5 1139.5 221.2 1143.9 220.8C1148.3 220.4 1149.4 232.5 1153 231.8C1156.6 231.2 1159.7 215.5 1165.3 216.9C1170.9 218.3 1181.5 239.7 1186.8 240.3C1192.1 240.9 1194.4 224.8 1197 220.7C1199.6 216.6 1200.7 216.7 1202.5 215.8C1204.3 214.9 1206.5 216.4 1208.1 215.1C1209.7 213.8 1209.2 215.1 1212.3 208.2C1215.4 201.2 1223.7 178.1 1226.9 173.4C1230.1 168.8 1230 172.9 1231.7 180.3C1233.4 187.7 1234.9 203.8 1237.3 217.9C1239.7 232.1 1244 258.5 1246.3 265.2C1248.6 271.9 1249.2 263.2 1251.2 258.3C1253.2 253.4 1255.2 242.4 1258.2 236C1261.2 229.6 1266.3 222.2 1269.3 220C1272.3 217.8 1273.8 222.5 1276.3 222.8C1278.8 223.2 1281.2 221.1 1284.6 222.1C1287.9 223.1 1293.2 228.9 1296.4 229C1299.7 229.1 1301 222.7 1304.1 222.8C1307.2 222.9 1311 231.1 1315.2 229.7C1319.4 228.3 1325.6 216.8 1329.1 214.4C1332.6 212 1333.4 216.8 1336.1 215.1C1338.8 213.4 1342.5 202.6 1345.1 204C1347.7 205.4 1349.5 215.8 1351.7 223.5C1353.9 231.2 1356.2 249.1 1358.4 250.2C1360.6 251.3 1362.4 236.7 1365 230.2C1367.6 223.7 1371.7 212.9 1374.2 211C1376.7 209.1 1378.1 215.7 1380.1 218.5C1382 221.3 1383.2 229.8 1385.9 227.7C1388.6 225.6 1393.6 208.1 1396 206C1398.4 203.9 1397.8 206 1400.1 215.2C1402.4 224.4 1407 256.4 1410.1 261.1C1413.2 265.8 1415.7 255.3 1418.5 243.5C1421.3 231.7 1424.8 200.1 1426.8 190.1C1428.8 180.1 1428.9 185.5 1430.2 183.4C1431.5 181.3 1432.8 180.8 1434.4 177.6C1436 174.4 1438.2 164.3 1439.9 164.2C1441.6 164 1442.8 172.1 1444.4 176.7C1446 181.3 1447.7 190.7 1449.4 191.8C1451.2 192.9 1453.2 181.7 1454.9 183.1C1456.6 184.5 1458 189.2 1459.4 200.1C1460.9 211 1462.1 234.9 1463.6 248.6C1465.1 262.2 1466.9 280.6 1468.6 282C1470.3 283.4 1472 264.3 1473.6 256.9C1475.2 249.5 1476.3 238.5 1478.3 237.7C1480.2 236.9 1482.4 246.8 1485.3 251.9C1488.2 257.1 1492.6 268.5 1495.8 268.6C1499 268.7 1501.8 262.9 1504.5 252.4C1507.2 241.9 1509.3 227.1 1511.7 205.4C1514.1 183.7 1516.7 144.8 1518.9 122.3C1521.1 99.8 1523.3 75.4 1525.1 70.6C1526.9 65.8 1528.3 83.6 1529.8 93.4C1531.3 103.2 1532.8 125 1534.1 129.5C1535.4 134 1536.3 116.9 1537.7 120.5C1539.1 124.1 1540.7 120.8 1542.4 151.2C1544.1 181.6 1546.1 258.4 1547.8 303C1549.5 347.6 1550.7 418.6 1552.5 418.6C1554.3 418.6 1556.8 333.1 1558.7 303C1560.6 272.9 1562.2 244.5 1564.1 237.9C1566 231.3 1568.1 265.6 1570.2 263.2C1572.3 260.8 1574.5 234.9 1576.7 223.5C1578.9 212.1 1580.2 191.3 1583.2 194.6C1586.2 197.9 1590 243.9 1594.8 243.4C1599.6 242.9 1607.3 192.8 1612.2 191.7C1617.1 190.6 1620.6 233.6 1624.4 236.8C1628.2 240 1632.4 213.6 1635.3 210.8C1638.2 208 1640.1 217.5 1641.8 219.9C1643.5 222.3 1644.2 225.3 1645.4 225.3C1646.6 225.3 1646.6 220.7 1649 219.9C1651.4 219.1 1658.1 220.5 1659.9 220.6"/>
<path d="M1738 222.8C1741.6 222.8 1755.1 224.4 1759.6 222.8C1764.1 221.2 1763.1 218.3 1765 213.4C1766.9 208.5 1768.4 191.4 1770.9 193.2C1773.4 195 1777.4 216.9 1779.8 224.1C1782.2 231.3 1782.7 236.5 1785.1 236.3C1787.5 236.1 1791.4 223.9 1794 222.8C1796.6 221.7 1798.2 229.7 1800.5 229.5C1802.8 229.3 1805.6 223.5 1808 221.5C1810.4 219.5 1812.9 221 1814.7 217.4C1816.5 213.8 1817.5 206.4 1818.8 199.9C1820.1 193.4 1821.6 182.9 1822.8 178.4C1824 173.9 1824.7 171.7 1826 173C1827.3 174.3 1829.2 174.8 1830.9 186.5C1832.6 198.2 1834.7 229.8 1836.3 243C1837.9 256.2 1838.1 270.3 1840.3 265.8C1842.5 261.3 1847.2 227.3 1849.7 216.1C1852.2 204.9 1853.1 195.9 1855.6 198.6C1858.1 201.3 1862.1 225 1864.5 232.2C1866.9 239.4 1867 243.4 1869.9 241.6C1872.8 239.8 1878.4 224.8 1882 221.5C1885.6 218.2 1889.8 221.5 1891.4 221.5"/>
<path d="M1056 221.4C1056.8 221 1059.6 218 1060.8 218.8C1062 219.6 1061.7 226 1063.4 226C1065.1 226 1068 219.7 1071 218.8C1074 217.9 1079 220.3 1081.6 220.8C1084.2 221.3 1084.2 220.8 1086.8 222C1089.4 223.2 1094.5 227.4 1097.1 228C1099.7 228.6 1100.3 226.8 1102.3 225.3C1104.2 223.8 1107.1 218.8 1108.8 218.8C1110.5 218.8 1110.1 227.6 1112.7 225.3C1115.3 223 1121.4 206.9 1124.4 205.2C1127.4 203.5 1129 211.9 1130.9 215C1132.9 218.1 1134.1 222.3 1136.1 224C1138 225.7 1140.2 225.8 1142.6 225.3C1145 224.8 1146.4 223.8 1150.4 220.8C1154.4 217.8 1162.3 204.8 1166.6 207.1C1170.9 209.4 1174.1 228.8 1176.4 234.4C1178.7 240 1178.1 241.3 1180.3 240.9C1182.5 240.5 1186.8 233.8 1189.4 231.8C1192 229.8 1193.9 228.8 1196 229C1198.1 229.2 1200 231.1 1202 233C1204 234.9 1205.9 242.2 1208.1 240.2C1210.3 238.1 1212.5 230 1215 220.7C1217.5 211.4 1221 194.8 1223.4 184.5C1225.9 174.2 1227.9 160.4 1229.7 158.8C1231.5 157.2 1233 166.8 1234.5 174.8C1236 182.8 1237.3 195.2 1238.7 206.8C1240.1 218.4 1241.5 236.7 1242.9 244.3C1244.3 252 1245.4 252.5 1247 252.7C1248.6 252.9 1250 248.5 1252.6 245.7C1255.1 242.9 1258.8 239.7 1262.3 236C1265.8 232.3 1269.5 226.9 1273.5 223.5C1277.5 220.1 1282.3 215.8 1286 215.8C1289.7 215.8 1290.8 221.8 1295.7 223.5C1300.6 225.2 1309.2 224.8 1315.2 226.3C1321.2 227.8 1328.2 233 1331.9 232.5C1335.6 232 1334.7 230.3 1337.5 223.5C1340.3 216.7 1345.7 191.5 1348.6 191.5C1351.5 191.5 1353.1 215.2 1355 223.5C1356.9 231.8 1357.5 242.7 1360 241C1362.5 239.3 1367.2 217.5 1370 213.5C1372.8 209.5 1374.7 213.5 1376.7 216.8C1378.7 220.1 1380.3 229.5 1381.8 233.5C1383.2 237.5 1384 242.1 1385.4 241C1386.8 239.9 1388.3 231.1 1390.1 226.8C1391.9 222.5 1394.2 215.8 1396 215C1397.8 214.2 1398.9 218.3 1401 222C1403.1 225.7 1405.6 234.7 1408.5 236.9C1411.4 239.1 1415.5 242.7 1418.5 235.2C1421.5 227.7 1424.4 192.9 1426.8 191.8C1429.2 190.7 1431 218.3 1432.7 228.5C1434.4 238.7 1435.4 251.9 1436.9 252.7C1438.4 253.5 1440.2 239.3 1441.9 233.5C1443.6 227.7 1444.4 224.4 1446.9 217.7C1449.4 211 1454.4 195.8 1456.9 193.4C1459.4 191 1460.4 197.9 1461.9 203.5C1463.4 209.1 1464.1 228.5 1466.1 226.8C1468 225.1 1471.9 201.3 1473.6 193.4C1475.3 185.5 1475 178.6 1476.1 179.2C1477.2 179.8 1479 188.6 1480.3 196.8C1481.5 205 1482.6 222.7 1483.6 228.5C1484.6 234.3 1484.1 232.2 1486.1 231.9C1488 231.6 1491.9 227.6 1495.3 226.8C1498.7 226 1503.3 225.8 1506.3 227.1C1509.3 228.3 1510.8 227.7 1513.5 234.3C1516.2 240.9 1519.8 256.6 1522.5 266.8C1525.2 277.1 1528 298.8 1529.8 295.8C1531.6 292.8 1532.2 271.7 1533.4 248.8C1534.6 225.9 1535.5 185.2 1537 158.4C1538.5 131.6 1540.9 93.9 1542.4 87.9C1543.9 81.9 1544.8 101.5 1546 122.3C1547.2 143.1 1548.1 188.2 1549.6 212.6C1551.1 237 1553.4 265.6 1555 268.6C1556.6 271.6 1558.1 242.1 1559.4 230.7C1560.7 219.3 1561.8 201.8 1563 200C1564.2 198.2 1565.4 216 1566.6 219.9C1567.8 223.8 1569 227.7 1570.2 223.5C1571.4 219.3 1572.4 204.7 1573.8 194.6C1575.2 184.5 1576.9 164 1578.5 162.8C1580.1 161.6 1581.7 173.6 1583.2 187.3C1584.7 201 1586 230.4 1587.6 245.2C1589.2 260 1590.9 273.1 1593 275.9C1595.1 278.7 1597.3 270.7 1600 262C1602.7 253.3 1605.6 230.8 1609.3 223.5C1613 216.2 1617.5 219.6 1622 218C1626.5 216.4 1632.6 213.3 1636.4 214C1640.2 214.7 1641.4 220.8 1645 222C1648.6 223.2 1655.8 221.2 1658 221" stroke-dasharray="4.6,8" stroke-linecap="round"/>
<path d="M1740.8 221.5C1742.6 221.1 1748.6 224.2 1751.5 218.8C1754.4 213.4 1755.8 200 1758.2 189.2C1760.6 178.3 1763.5 144.7 1765.8 153.7C1768 162.7 1770 215.6 1771.7 243C1773.4 270.4 1774.5 299 1775.7 318.3C1777 337.6 1777.6 369.8 1779.2 358.6C1780.8 347.4 1783.7 280.1 1785.1 251C1786.5 221.9 1786.8 199.7 1787.8 183.8C1788.8 167.9 1789.2 153.8 1791.3 155.6C1793.4 157.4 1797.7 187.2 1800.5 194.6C1803.3 202 1806.1 202.7 1808 200C1809.9 197.3 1810.6 186.7 1812 178.4C1813.4 170.1 1814.6 136.8 1816.6 150.2C1818.6 163.6 1822.2 226.6 1824.1 259.1C1826 291.6 1826.9 321.9 1828.2 345.2C1829.5 368.5 1829.9 414.7 1831.7 399C1833.5 383.3 1837.1 289.1 1838.9 251C1840.7 212.9 1841.2 188.5 1842.4 170.3C1843.6 152.2 1843.9 135.4 1846.2 142.1C1848.5 148.8 1853.8 195.7 1856.4 210.7C1859 225.7 1860 231.6 1861.8 232.2C1863.6 232.8 1865 219 1867 214C1869 209 1871.9 202.8 1873.9 202.1C1875.9 201.4 1877.4 206.8 1879 210C1880.6 213.2 1881.3 219.6 1883.3 221.5C1885.3 223.4 1889.7 221.5 1891 221.5" stroke-dasharray="4.6,8" stroke-linecap="round"/>
</g>
<g stroke="#000" stroke-width="2.6" fill="none" stroke-linecap="butt">
<path d="M1048.1 61.1L1048.1 461.9L1657.4 461.9"/>
<line x1="1739.6" y1="461.9" x2="1892.3" y2="461.9"/>
<line x1="1038.1" y1="61.1" x2="1048.1" y2="61.1"/>
<line x1="1038.1" y1="141.2" x2="1048.1" y2="141.2"/>
<line x1="1038.1" y1="221.4" x2="1048.1" y2="221.4"/>
<line x1="1038.1" y1="301.6" x2="1048.1" y2="301.6"/>
<line x1="1038.1" y1="381.7" x2="1048.1" y2="381.7"/>
<line x1="1038.1" y1="461.9" x2="1048.1" y2="461.9"/>
<line x1="1047.8" y1="461.9" x2="1047.8" y2="472.4"/>
<line x1="1124" y1="461.9" x2="1124" y2="467.9"/>
<line x1="1200.2" y1="461.9" x2="1200.2" y2="472.4"/>
<line x1="1276.4" y1="461.9" x2="1276.4" y2="467.9"/>
<line x1="1352.6" y1="461.9" x2="1352.6" y2="472.4"/>
<line x1="1428.8" y1="461.9" x2="1428.8" y2="467.9"/>
<line x1="1505" y1="461.9" x2="1505" y2="472.4"/>
<line x1="1581.2" y1="461.9" x2="1581.2" y2="467.9"/>
<line x1="1657.4" y1="455.4" x2="1657.4" y2="468.4"/>
<line x1="1739.6" y1="455.4" x2="1739.6" y2="468.4"/>
<line x1="1815.9" y1="461.9" x2="1815.9" y2="467.9"/>
<line x1="1892.3" y1="461.9" x2="1892.3" y2="472.4"/>
</g>
<g font-family="'Liberation Serif', 'Times New Roman', Times, serif" font-size="18" font-weight="bold" fill="#000">
<text x="1034" y="68.1" text-anchor="end">0.2</text>
<text x="1034" y="148.2" text-anchor="end">0.1</text>
<text x="1034" y="228.4" text-anchor="end">0.0</text>
<text x="1034" y="308.6" text-anchor="end">-0.1</text>
<text x="1034" y="388.7" text-anchor="end">-0.2</text>
<text x="1034" y="468.9" text-anchor="end">-0.3</text>
<text x="1047.8" y="493.4" text-anchor="middle">1000</text>
<text x="1200.2" y="493.4" text-anchor="middle">1200</text>
<text x="1352.6" y="493.4" text-anchor="middle">1400</text>
<text x="1505" y="493.4" text-anchor="middle">1600</text>
<text x="1657.4" y="493.4" text-anchor="middle">1800</text>
<text x="1739.6" y="493.4" text-anchor="middle">2800</text>
<text x="1892.3" y="493.4" text-anchor="middle">3000</text>
<text x="1470.3" y="522" text-anchor="middle" font-size="20.5" textLength="228.6" lengthAdjust="spacingAndGlyphs">X-variables PC1, 2 (cm-1)</text>
</g>
<text transform="translate(1245.7 282.7) scale(1 1.07)" font-family="'Liberation Serif', 'Times New Roman', Times, serif" font-size="14.8" text-anchor="middle" font-weight="bold">1261</text>
<text transform="translate(1411 286.1) scale(1 1.07)" font-family="'Liberation Serif', 'Times New Roman', Times, serif" font-size="14.8" text-anchor="middle" font-weight="bold">1477</text>
<text transform="translate(1436 269.4) scale(1 1.07)" font-family="'Liberation Serif', 'Times New Roman', Times, serif" font-size="14.8" text-anchor="middle" font-weight="bold">1511</text>
<text transform="translate(1468.6 302.8) scale(1 1.07)" font-family="'Liberation Serif', 'Times New Roman', Times, serif" font-size="14.8" text-anchor="middle" font-weight="bold">1552</text>
<text transform="translate(1497.5 289.3) scale(1 1.07)" font-family="'Liberation Serif', 'Times New Roman', Times, serif" font-size="14.8" text-anchor="middle" font-weight="bold">1588</text>
<text transform="translate(1528 316.4) scale(1 1.07)" font-family="'Liberation Serif', 'Times New Roman', Times, serif" font-size="14.8" text-anchor="middle" font-weight="bold">1633</text>
<text transform="translate(1593 298.4) scale(1 1.07)" font-family="'Liberation Serif', 'Times New Roman', Times, serif" font-size="14.8" text-anchor="middle" font-weight="bold">1714</text>
<text transform="translate(1553.2 439.3) scale(1 1.07)" font-family="'Liberation Serif', 'Times New Roman', Times, serif" font-size="14.8" text-anchor="middle" font-weight="bold">1662</text>
<text transform="translate(1779.8 381) scale(1 1.07)" font-family="'Liberation Serif', 'Times New Roman', Times, serif" font-size="14.8" text-anchor="middle" font-weight="bold">2852</text>
<text transform="translate(1830.9 415.9) scale(1 1.07)" font-family="'Liberation Serif', 'Times New Roman', Times, serif" font-size="14.8" text-anchor="middle" font-weight="bold">2923</text>
<text transform="translate(1869.9 262.6) scale(1 1.07)" font-family="'Liberation Serif', 'Times New Roman', Times, serif" font-size="14.8" text-anchor="middle" font-weight="bold">2971</text>
<line x1="1750" y1="36.9" x2="1777" y2="36.9" stroke="#000" stroke-width="2.8"/>
<line x1="1750" y1="71.4" x2="1777" y2="71.4" stroke="#000" stroke-width="2.8" stroke-dasharray="5.5,6.5"/>
<g font-family="'Liberation Serif', 'Times New Roman', Times, serif" font-size="22" fill="#000">
<text x="1792.6" y="43.5" textLength="96.5" lengthAdjust="spacingAndGlyphs">PC-1(44%)</text>
<text x="1792.6" y="77.8" textLength="101.7" lengthAdjust="spacingAndGlyphs">PC-2 (15%)</text>
</g>
<text x="3" y="595" font-family="'Liberation Serif', 'Times New Roman', Times, serif" font-size="30">c)</text>
<g fill="none" stroke-linejoin="round">
<path d="M86 744.9C91 744.5 108 743.9 116.2 742.5C124.5 741.1 129.5 739.3 135.5 736.5C141.5 733.7 147.5 730 152.3 725.6C157.1 721.2 160.6 716.9 164.4 709.9C168.2 702.9 172.6 689.5 175.3 683.4C178 677.3 179 675 180.8 673.3C182.6 671.6 184.2 671.6 186.1 673.3C188 675 190.1 678.1 192.1 683.4C194.1 688.7 196 694.2 198.2 705.1C200.4 716 203 733.2 205.4 748.5C207.8 763.8 210.2 781 212.6 796.7C215 812.4 217.3 831.9 219.9 842.6C222.5 853.3 225.9 858.1 228.3 860.7C230.7 863.3 232.1 862.8 234.3 858.2C236.5 853.6 238.8 845.1 241.6 832.9C244.4 820.6 248 800 251.2 784.7C254.4 769.4 258.5 750.5 260.9 741.3C263.3 732 264 732.1 265.7 729.2C267.4 726.3 268.6 723.9 271 723.9C273.4 723.9 276.7 727.2 280 729C283.3 730.8 287.8 734.8 291 734.8C294.2 734.8 296.1 733 299.5 729.2C302.9 725.5 307.9 716.9 311.5 712.3C315.1 707.7 318 704 321.2 701.5C324.4 699 327.8 698 330.8 697.2C333.8 696.4 336.4 697.8 339.2 696.7C342 695.6 344.3 694.4 347.7 690.6C351.1 686.8 356.7 678 359.7 673.8C362.7 669.6 364 666.9 365.8 665.2C367.6 663.5 368.7 662.7 370.5 663.7C372.3 664.8 374.4 666 376.8 671.5C379.2 677 381.8 683.6 384.7 696.8C387.6 709.9 391 728.3 394.2 750.4C397.4 772.5 400.5 803 403.6 829.3C406.8 855.6 409.7 889.7 413.1 908.1C416.5 926.5 421.2 935.2 424.1 939.7C427 944.2 428 941.8 430.4 935C432.8 928.2 435.4 916.3 438.3 898.7C441.2 881.1 444.6 854 447.8 829.3C451 804.6 454.2 774.6 457.3 750.4C460.4 726.2 463.8 699.5 466.7 684.2C469.6 669 472.8 663.6 474.6 658.9C476.5 654.2 476.8 656.3 477.8 655.8C478.9 655.3 479.3 654.2 480.9 655.8C482.5 657.4 484.8 660 487.2 665.2C489.6 670.5 492.2 676.8 495.1 687.3C498 697.8 501.5 714.1 504.6 728.3C507.8 742.5 511.1 758 514 772.5C516.9 787 519.5 806.7 521.9 815.1C524.3 823.5 525.8 823.3 528.2 823C530.6 822.7 533.2 820.3 536.1 813.5C539 806.7 541.9 794.6 545.6 782C549.3 769.4 554 749.4 558.2 737.8C562.4 726.2 566.6 718.6 570.8 712.6C575 706.6 579.7 703.9 583.4 701.5C587.1 699.1 591.3 698.9 592.9 698.4L597.6 745.7L633.9 745.7" stroke="#ff0000" stroke-width="4"/>
<path d="M86 745C91 744.7 107.8 744.2 116 743C124.2 741.8 129.4 740.1 135.5 737.5C141.6 734.9 147.5 731.7 152.3 727.5C157.1 723.3 160.4 718.8 164.4 712.3C168.4 705.8 173.5 693 176.5 688.2C179.5 683.4 180.1 682.6 182.5 683.4C184.9 684.2 187.9 686.6 190.9 693C193.9 699.4 197.4 708.3 200.6 722C203.8 735.7 206.8 757.3 210 775C213.2 792.7 216.8 816 219.9 828.1C223 840.2 225.9 845.6 228.3 847.4C230.7 849.2 230.9 849.5 234.3 839C237.7 828.5 244.5 800.4 248.8 784.7C253.1 769 256.4 754.1 260 745C263.6 735.9 267.2 732 270.5 730C273.8 728 276.8 731.7 280 733C283.2 734.3 287 737.4 289.8 737.7C292.6 738 293.4 738.6 297 735C300.6 731.4 307.2 721.2 311.5 716C315.8 710.8 318.2 706.5 323 703.5C327.8 700.5 335.9 699.5 340.4 697.9C344.9 696.3 346.8 696.6 350 694C353.2 691.4 356.8 684.9 359.7 682.2C362.6 679.5 365.8 678.7 367.4 677.9C369 677.1 368.1 676.5 369.4 677.4C370.7 678.2 372.4 676.6 375 683C377.6 689.4 381 699.5 384.7 716C388.4 732.5 393.1 752.6 397.3 782C401.5 811.4 405.4 868.5 409.9 892.4C414.4 916.3 420.4 921.3 424.1 925.5C427.8 929.7 428.6 931 432 917.6C435.4 904.2 440.4 871.3 444.6 845C448.8 818.7 453.1 788.9 457.3 760C461.5 731.1 466.5 688.1 469.9 671.5C473.3 654.9 475.2 661 477.8 660.5C480.4 660 482.7 663.1 485.6 668.4C488.5 673.6 491.9 681.7 495.1 692C498.3 702.3 501.5 716.6 504.6 730C507.8 743.4 511.1 758.8 514 772.5C516.9 786.2 520.1 804.1 521.9 812C523.7 819.9 523.6 818.2 525 820C526.4 821.8 528.1 823.6 530 822.5C531.9 821.4 533.5 820.2 536.1 813.5C538.7 806.8 541.9 794.6 545.6 782C549.3 769.4 554 749.8 558.2 737.8C562.4 725.8 566.6 716.3 570.8 710C575 703.7 579.7 701.9 583.4 700C587.1 698.1 591.3 698.7 592.9 698.4L597.6 745.7L633.9 745.7" stroke="#0000ff" stroke-width="2.2"/>
<path d="M86 745.5C91 745.2 107.8 744.6 116 743.5C124.2 742.4 129.4 740.8 135.5 739C141.6 737.2 147.5 736.5 152.3 732.8C157.1 729.1 160.4 723.8 164.4 717C168.4 710.2 173.3 697.4 176.5 692C179.7 686.6 181.4 684.9 183.7 684.6C185.9 684.3 187.6 684.9 190 690C192.4 695.1 195.4 704.5 198 715C200.6 725.5 203.1 740.5 205.4 753C207.7 765.5 209.6 778.8 212 790C214.4 801.2 217.2 812.5 219.9 820C222.6 827.5 225.5 834 228.3 835.3C231.1 836.6 233.5 835.5 236.8 828C240.1 820.5 244.4 802.7 248 790C251.6 777.3 254.8 760.7 258.5 752C262.2 743.3 266.9 739.7 270.5 737.7C274.1 735.7 276.6 738.8 280 740C283.4 741.2 287.7 745.2 291 744.9C294.3 744.6 296.6 742.5 300 738C303.4 733.5 308 723.7 311.5 718C315 712.3 318 707 321.2 704C324.4 701 327.7 700.8 330.8 700C333.9 699.2 336.8 700 340 699.5C343.2 699 346.7 699.2 350 697C353.3 694.8 356.6 689.2 359.7 686C362.8 682.8 366.3 678.9 368.9 677.9C371.4 676.9 372.9 677.9 375 680C377.1 682.1 377.2 673.5 381.5 690.5C385.8 707.5 395.2 750.5 400.5 782C405.8 813.5 409.4 858.2 413.1 879.7C416.8 901.2 419.2 905.5 422.6 910.7C426 915.9 430.5 916.4 433.6 910.7C436.8 905 437.6 901.7 441.5 876.6C445.4 851.5 452.6 791.1 457.3 760C462 728.9 466.5 705.5 469.9 690C473.3 674.5 474.1 667.2 477.8 666.8C481.5 666.3 487.5 677 492 687.3C496.5 697.5 500.9 714.1 504.6 728.3C508.3 742.5 511.1 758.4 514 772.5C516.9 786.6 519.5 804.8 521.9 813C524.3 821.2 525.8 821.9 528.2 822C530.6 822.1 533.2 819.8 536.1 813.5C539 807.2 541.9 796.1 545.6 784C549.3 771.9 554 752.3 558.2 741C562.4 729.7 566.6 722.3 570.8 716C575 709.7 579.7 705.9 583.4 703C587.1 700.1 591.3 699.2 592.9 698.4L597.6 745.7L633.9 745.7" stroke="#000" stroke-width="2.2" stroke-dasharray="5,3.5"/>
</g>
<g stroke="#000" stroke-width="2.4" fill="none">
<path d="M85.8 655.1L85.8 1020.4L633.5 1020.4"/>
<line x1="77.3" y1="655.1" x2="85.8" y2="655.1"/>
<line x1="77.3" y1="746.4" x2="85.8" y2="746.4"/>
<line x1="77.3" y1="837.7" x2="85.8" y2="837.7"/>
<line x1="77.3" y1="929.1" x2="85.8" y2="929.1"/>
<line x1="77.3" y1="1020.4" x2="85.8" y2="1020.4"/>
<line x1="85.8" y1="1020.4" x2="85.8" y2="1029.2"/>
<line x1="222.7" y1="1020.4" x2="222.7" y2="1029.2"/>
<line x1="359.7" y1="1020.4" x2="359.7" y2="1029.2"/>
<line x1="496.6" y1="1020.4" x2="496.6" y2="1029.2"/>
<line x1="633.5" y1="1020.4" x2="633.5" y2="1029.2"/>
<line x1="154.3" y1="1020.4" x2="154.3" y2="1025.2"/>
<line x1="291.2" y1="1020.4" x2="291.2" y2="1025.2"/>
<line x1="428.1" y1="1020.4" x2="428.1" y2="1025.2"/>
<line x1="565" y1="1020.4" x2="565" y2="1025.2"/>
</g>
<g font-family="'Liberation Serif', 'Times New Roman', Times, serif" font-size="16" font-weight="bold" fill="#000">
<text x="73.8" y="660.7" text-anchor="end">0.001</text>
<text x="73.8" y="752" text-anchor="end">0.000</text>
<text x="73.8" y="843.3" text-anchor="end">-0.001</text>
<text x="73.8" y="934.7" text-anchor="end">-0.002</text>
<text x="73.8" y="1026" text-anchor="end">-0.003</text>
<text x="85.8" y="1047.4" text-anchor="middle">2800</text>
<text x="222.7" y="1047.4" text-anchor="middle">2850</text>
<text x="359.7" y="1047.4" text-anchor="middle">2900</text>
<text x="496.6" y="1047.4" text-anchor="middle">2950</text>
<text x="633.5" y="1047.4" text-anchor="middle">3000</text>
<text x="359.6" y="1071.3" text-anchor="middle" font-size="18.6" textLength="147" lengthAdjust="spacingAndGlyphs">wavenumber (cm-1)</text>
<text transform="translate(23,838.4) rotate(-90)" text-anchor="middle" font-size="21">2<tspan font-size="13" dy="-9.5">nd</tspan><tspan dy="9.5" dx="1">derivative</tspan></text>
</g>
<text transform="translate(228.3 877.5) scale(1 1.2)" font-family="'Liberation Serif', 'Times New Roman', Times, serif" font-size="13.6" text-anchor="middle" font-weight="bold">2852</text>
<text transform="translate(425.7 957) scale(1 1.2)" font-family="'Liberation Serif', 'Times New Roman', Times, serif" font-size="13.6" text-anchor="middle" font-weight="bold">2923</text>
<g font-family="'Liberation Serif', 'Times New Roman', Times, serif" font-size="18.5" fill="#000">
<line x1="109.8" y1="930.9" x2="132" y2="930.9" stroke="#000" stroke-width="2.2" stroke-dasharray="5,4"/>
<text x="145.3" y="936.3" textLength="66.8" lengthAdjust="spacingAndGlyphs">Untreated</text>
<line x1="109.8" y1="961.4" x2="132" y2="961.4" stroke="#0000ff" stroke-width="2.2"/>
<text x="145.3" y="967.7" textLength="91.6" lengthAdjust="spacingAndGlyphs">Sericin 26μg</text>
<line x1="109.8" y1="991.1" x2="132" y2="991.1" stroke="#ff0000" stroke-width="4"/>
<text x="145.3" y="997.4" textLength="91.6" lengthAdjust="spacingAndGlyphs">Sericin 34μg</text>
</g>
<text x="671" y="594.1" font-family="'Liberation Serif', 'Times New Roman', Times, serif" font-size="30">d)</text>
<g fill="none" stroke-linejoin="round">
<path d="M761.5 754.5C764.8 752.3 773.6 745.8 781.2 741.5C788.8 737.2 799.3 729.5 807.1 728.6C814.9 727.8 821 730.8 827.9 736.4C834.8 742 841.8 750.6 848.7 762.3C855.6 774 862.1 789.2 869.5 806.5C876.9 823.8 886 850.6 892.9 866.2C899.8 881.8 904.5 889.6 911 900C917.5 910.4 925.3 921.5 931.8 928.6C938.3 935.8 945.7 940.3 950 942.9C954.3 945.5 954.3 944.9 957.8 944.2C961.3 943.6 966.5 944.2 970.8 939C975.1 933.8 979 925.6 983.8 913C988.6 900.4 993.8 880.5 999.4 863.6C1005 846.7 1011.9 824.5 1017.5 811.7C1023.1 798.9 1029.3 792 1033.1 787C1036.8 782 1037 783 1040 781.8C1043 780.6 1047.1 779.4 1050.9 779.8C1054.7 780.2 1058.8 782.7 1063 784C1067.2 785.3 1071.7 788.1 1075.9 787.7C1080.1 787.3 1084.7 784.4 1088.4 781.8C1092.2 779.1 1094.5 776.5 1098.4 771.8C1102.3 767.1 1107.1 758.7 1111.8 753.4C1116.5 748.1 1121.5 743.2 1126.8 740.1C1132.1 737 1138.5 735 1143.5 734.7C1148.5 734.4 1152.2 735.8 1156.9 738.4C1161.6 741 1167.2 745.6 1171.9 750.1C1176.6 754.6 1180.6 760.9 1185.3 765.1C1190 769.3 1194.7 772 1200.3 775.1C1205.9 778.2 1213.4 780.7 1218.7 783.5C1224 786.3 1227.3 788.6 1232 791.8C1236.7 795 1242.3 799.5 1247 802.7C1251.7 805.9 1255.5 809 1260.4 811C1265.3 813 1271.3 814.9 1276.3 814.9C1281.3 814.9 1285.1 813.5 1290.5 811C1295.9 808.5 1305.8 802 1308.8 800.2" stroke="#ff0000" stroke-width="2.2"/>
<path d="M761.5 750.5C764.8 748.6 774.2 742.1 781.2 739C788.2 735.9 797.2 731.9 803.2 731.7C809.2 731.5 812.1 733.9 817.5 737.7C822.9 741.5 829.6 746.9 835.7 754.5C841.8 762.1 847.8 771.8 853.9 783.1C860 794.4 865.6 807.4 872.1 822.1C878.6 836.8 886 855.4 892.9 871.4C899.8 887.4 907.1 905.9 913.6 918.2C920.1 930.6 926.2 940.1 931.8 945.5C937.4 950.9 942.6 950.6 947.4 950.6C952.2 950.6 955.6 951.3 960.4 945.5C965.2 939.7 970.4 929.7 976 915.6C981.6 901.5 988.2 877.9 994.2 861C1000.2 844.1 1006.2 826.6 1012.3 814.3C1018.3 802 1025.9 792.8 1030.5 787C1035.1 781.2 1036.5 780.9 1040 779.3C1043.5 777.6 1047.5 777.1 1051.7 777.1C1055.9 777.1 1060.5 778.6 1065 779.3C1069.5 780 1074.2 781.8 1078.4 781.5C1082.6 781.2 1086.5 779.4 1090.1 777.6C1093.7 775.9 1095.9 774.2 1100.1 771C1104.3 767.8 1109.8 762.4 1115.1 758.4C1120.4 754.4 1126.1 749.7 1131.8 746.8C1137.5 743.9 1144.1 741 1149.4 740.9C1154.7 740.8 1158.7 743.2 1163.6 745.9C1168.5 748.5 1173.6 753.2 1178.6 756.8C1183.6 760.4 1187.5 763.9 1193.6 767.6C1199.7 771.4 1209.2 775.8 1215.3 779.3C1221.4 782.8 1225.3 784.7 1230.3 788.5C1235.3 792.3 1240.4 797.4 1245.4 801.9C1250.4 806.4 1255.2 812.2 1260.4 815.2C1265.6 818.2 1271.3 819.9 1276.3 819.9C1281.3 819.9 1285.1 818.4 1290.5 815.2C1295.9 812.1 1305.8 803.4 1308.8 801" stroke="#0000ff" stroke-width="2.2"/>
<path d="M761.5 753.5C764.8 751.4 773.2 745.4 781.2 741C789.2 736.6 801.9 728.5 809.7 727.3C817.5 726.1 821.4 728 827.9 733.8C834.4 739.6 841.3 748.9 848.7 762.3C856.1 775.7 864.3 796.1 872.1 814.3C879.9 832.5 888 854.5 895.4 871.4C902.8 888.3 909.3 903.7 916.2 915.6C923.1 927.5 930.9 937.3 937 942.9C943.1 948.5 947.8 949.4 952.6 949.4C957.4 949.4 961.3 947.7 965.6 942.9C969.9 938.1 973.8 932.7 978.6 920.8C983.4 908.9 989 887.8 994.2 871.4C999.4 855 1003.7 835.7 1009.7 822.1C1015.8 808.5 1025.5 796 1030.5 789.6C1035.5 783.2 1036.8 784.8 1040 783.5C1043.2 782.2 1046.4 781.7 1050 781.8C1053.6 781.9 1057.1 783.2 1061.7 784.3C1066.3 785.4 1072.9 788.5 1077.6 788.2C1082.3 787.9 1086.5 784.9 1090 782.7C1093.5 780.5 1094.5 779.2 1098.4 775.1C1102.3 771 1108.5 764 1113.5 758.4C1118.5 752.8 1122.9 745.7 1128.5 741.7C1134.1 737.7 1141.6 735 1146.9 734.2C1152.2 733.4 1155.8 734.3 1160.2 736.7C1164.7 739.1 1169.4 744.2 1173.6 748.4C1177.8 752.6 1181.1 758.2 1185.3 761.8C1189.5 765.4 1193.3 767 1198.6 770.1C1203.9 773.2 1211.4 776.8 1217 780.1C1222.6 783.5 1227 786.3 1232 790.2C1237 794.1 1242.3 799.9 1247 803.5C1251.7 807.1 1255.4 809.9 1260.4 811.9C1265.4 813.9 1271.5 815.5 1277.1 815.2C1282.7 814.9 1288.5 812.8 1293.8 810.2C1299.1 807.7 1306.3 801.6 1308.8 799.9" stroke="#000" stroke-width="2.2" stroke-dasharray="5,3.5"/>
</g>
<g stroke="#000" stroke-width="2.4" fill="none">
<path d="M761 655.2L761 1020.5L1309.8 1020.5"/>
<line x1="752.5" y1="655.2" x2="761" y2="655.2"/>
<line x1="752.5" y1="728.2" x2="761" y2="728.2"/>
<line x1="752.5" y1="801.3" x2="761" y2="801.3"/>
<line x1="752.5" y1="874.4" x2="761" y2="874.4"/>
<line x1="752.5" y1="947.4" x2="761" y2="947.4"/>
<line x1="752.5" y1="1020.5" x2="761" y2="1020.5"/>
<line x1="761" y1="1020.5" x2="761" y2="1029.3"/>
<line x1="943.9" y1="1020.5" x2="943.9" y2="1029.3"/>
<line x1="1126.8" y1="1020.5" x2="1126.8" y2="1029.3"/>
<line x1="1309.8" y1="1020.5" x2="1309.8" y2="1029.3"/>
<line x1="852.5" y1="1020.5" x2="852.5" y2="1025.3"/>
<line x1="1035.4" y1="1020.5" x2="1035.4" y2="1025.3"/>
<line x1="1218.3" y1="1020.5" x2="1218.3" y2="1025.3"/>
</g>
<g font-family="'Liberation Serif', 'Times New Roman', Times, serif" font-size="16" font-weight="bold" fill="#000">
<text x="750.2" y="660.8" text-anchor="end">0.004</text>
<text x="750.2" y="733.8" text-anchor="end">0.002</text>
<text x="750.2" y="806.9" text-anchor="end">0.000</text>
<text x="750.2" y="880" text-anchor="end">-0.002</text>
<text x="750.2" y="953" text-anchor="end">-0.004</text>
<text x="750.2" y="1026.1" text-anchor="end">-0.006</text>
<text x="761" y="1047.4" text-anchor="middle">1600</text>
<text x="943.9" y="1047.4" text-anchor="middle">1650</text>
<text x="1126.8" y="1047.4" text-anchor="middle">1700</text>
<text x="1309.8" y="1047.4" text-anchor="middle">1750</text>
<text x="1035.4" y="1071.3" text-anchor="middle" font-size="18.6" textLength="147" lengthAdjust="spacingAndGlyphs">wavenumber (cm-1)</text>
<text transform="translate(697.6,838.4) rotate(-90)" text-anchor="middle" font-size="21">2<tspan font-size="13" dy="-9.5">nd</tspan><tspan dy="9.5" dx="1">derivative</tspan></text>
</g>
<text transform="translate(949.2 971.4) scale(1 1.2)" font-family="'Liberation Serif', 'Times New Roman', Times, serif" font-size="13.6" text-anchor="middle" font-weight="bold">1652</text>
<text transform="translate(1078.4 808.4) scale(1 1.2)" font-family="'Liberation Serif', 'Times New Roman', Times, serif" font-size="13.6" text-anchor="middle" font-weight="bold">1865</text>
<g font-family="'Liberation Serif', 'Times New Roman', Times, serif" font-size="18.5" fill="#000">
<line x1="773.9" y1="941.8" x2="797.5" y2="941.8" stroke="#000" stroke-width="2.2" stroke-dasharray="6,4.6"/>
<text x="810.1" y="946.9" textLength="66.3" lengthAdjust="spacingAndGlyphs">Untreated</text>
<line x1="773.9" y1="972" x2="797.5" y2="972" stroke="#0000ff" stroke-width="2.2"/>
<text x="810.1" y="978.4" textLength="90.9" lengthAdjust="spacingAndGlyphs">Sericin 26μg</text>
<line x1="773.9" y1="1001.6" x2="797.5" y2="1001.6" stroke="#ff0000" stroke-width="2.2"/>
<text x="810.1" y="1008.1" textLength="90.9" lengthAdjust="spacingAndGlyphs">Sericin 34μg</text>
</g>
<text x="1347.6" y="595.9" font-family="'Liberation Serif', 'Times New Roman', Times, serif" font-size="30">e)</text>
<g fill="none" stroke-linejoin="round">
<path d="M1448.2 777.6L1472.7 777.6L1475.7 741.2C1477.6 741.7 1481 741.9 1486.9 744.3C1492.9 746.7 1505.6 751.6 1511.4 755.5C1517.2 759.4 1518.2 760 1521.6 767.8C1525 775.6 1528.4 789.8 1531.8 802.4C1535.2 815 1538.8 834.1 1542 843.3C1545.2 852.5 1547.8 859.6 1551.2 857.6C1554.6 855.6 1558.8 839.9 1562.4 831C1566.1 822.1 1569.7 805.2 1573.1 804.5C1576.5 803.8 1578.4 813.8 1582.9 826.9C1587.4 840 1595.5 877.6 1600.2 883.1C1605 888.6 1608.2 870.3 1611.4 859.6C1614.6 848.9 1616.5 834.1 1619.6 818.8C1622.7 803.5 1626.2 778.6 1629.8 767.8C1633.4 757 1637.3 754.6 1641 753.9C1644.7 753.2 1648.5 760 1652.2 763.7C1656 767.4 1659.8 777.3 1663.5 775.9C1667.2 774.5 1671.1 764.7 1674.7 755.5C1678.3 746.3 1681.3 729.8 1684.9 720.8C1688.5 711.8 1692.7 702.8 1696.1 701.4C1699.5 700 1702.3 707.1 1705.3 712.7C1708.3 718.3 1710.2 727.9 1713.9 735.1C1717.7 742.3 1723.6 747.2 1727.8 756C1732 764.8 1736 779 1739 788C1742 797 1743.8 805.6 1745.9 810.3C1748 814.9 1749.4 816.8 1751.5 815.9C1753.6 815 1755.4 816.3 1758.4 804.7C1761.4 793.1 1766.1 763.9 1769.6 746.3C1773.1 728.7 1776.3 709.1 1779.3 699C1782.3 688.9 1784.2 685.1 1787.7 685.6C1791.2 686.1 1795.8 694.8 1800.2 701.7C1804.6 708.6 1809.9 718.4 1814.1 726.8C1818.3 735.1 1821.5 740.7 1825.2 751.8C1828.9 762.9 1832.7 779.2 1836.4 793.6C1840.1 808 1843.3 822.3 1847.5 838.1C1851.7 853.9 1856.9 877 1861.4 888.2C1866 899.4 1870.6 906 1874.8 905.5C1879 905 1882.7 896.6 1886.5 885.4C1890.3 874.2 1893.9 856.2 1897.6 838.1C1901.3 820 1904.5 795.9 1908.7 776.9C1912.9 757.9 1918.4 734.9 1922.7 724C1927 713.1 1930.9 711.5 1934.6 711.5C1938.3 711.5 1940.9 718.2 1944.9 724C1948.9 729.8 1953.7 738.9 1958.8 746.3C1963.9 753.7 1970.4 760.9 1975.5 768.5C1980.6 776.1 1987.2 788.2 1989.5 792.2" stroke="#ff0000" stroke-width="2.2"/>
<path d="M1448.2 777.6L1472.7 777.6L1475.7 742.2C1477.6 742.2 1482.7 741.4 1486.9 742.2C1491.2 743.1 1496.8 744.4 1501.2 747.3C1505.6 750.2 1510.1 754.8 1513.5 759.6C1516.9 764.4 1518.9 768.1 1521.6 775.9C1524.3 783.7 1527.1 796.3 1529.8 806.5C1532.5 816.7 1534.8 828.7 1538 837.1C1541.2 845.5 1545.8 856.1 1549.2 857.1C1552.6 858.1 1555.5 850.4 1558.4 843.3C1561.3 836.2 1564.2 821.3 1566.5 814.7C1568.8 808.1 1570.2 803.8 1572.2 803.5C1574.2 803.2 1576.3 806.1 1578.8 812.7C1581.2 819.3 1584.2 833.1 1586.9 843.3C1589.6 853.5 1592.8 867.1 1595.1 873.9C1597.4 880.7 1598.4 885.5 1600.8 884.1C1603.2 882.7 1606.6 875.2 1609.4 865.7C1612.2 856.2 1614.9 840.9 1617.6 826.9C1620.3 812.9 1623 793.5 1625.7 782C1628.4 770.5 1630.8 763.6 1633.9 757.6C1637 751.6 1640.7 746.3 1644.1 746.3C1647.5 746.3 1650.6 752.8 1654.3 757.6C1658 762.4 1663.1 773.5 1666.5 774.9C1669.9 776.2 1671.6 774.7 1674.7 765.7C1677.8 756.7 1681.1 732.4 1684.9 720.8C1688.7 709.2 1694.2 698.7 1697.6 696.3C1701 693.9 1701.9 698.5 1705.3 706.5C1708.7 714.5 1714.2 734.6 1718 744C1721.8 753.4 1724.3 755.2 1727.8 763C1731.3 770.8 1735.3 783.4 1739 790.8C1742.7 798.2 1746.6 808 1750.1 807.5C1753.6 807 1756.5 801.9 1759.8 788C1763 774.1 1766.6 741.6 1769.6 724C1772.6 706.4 1775.4 690.5 1777.9 682.3C1780.5 674 1782.1 673.6 1784.9 674.5C1787.7 675.4 1791.1 681.9 1794.6 687.8C1798.1 693.7 1802.1 702.7 1805.8 710.1C1809.5 717.5 1813.2 722.7 1816.9 732.4C1820.6 742.1 1824.3 753.7 1828 768.5C1831.7 783.3 1835.5 803.3 1839.2 821.4C1842.9 839.5 1846.6 859.5 1850.3 877.1C1854 894.7 1857.3 913.9 1861.4 927.2C1865.5 940.6 1871.1 954.4 1874.8 957.2C1878.5 960 1880.8 955.4 1883.7 943.9C1886.6 932.4 1889.2 909.5 1892 888.2C1894.8 866.9 1897.6 839.1 1900.4 815.9C1903.2 792.7 1905.9 767.7 1908.7 749.1C1911.5 730.5 1913.6 715.9 1917.1 704.5C1920.6 693.1 1925.9 683.2 1929.6 680.9C1933.3 678.6 1935.9 684.8 1939.4 690.6C1942.9 696.4 1946.8 706.9 1950.5 715.7C1954.2 724.5 1957.4 735.1 1961.6 743.5C1965.8 751.9 1970.8 757.9 1975.5 765.8C1980.2 773.7 1987.2 786.6 1989.5 790.8" stroke="#0000ff" stroke-width="2.2"/>
<path d="M1448.2 777.2L1472.7 776.5L1475.7 737.1C1476.4 737.2 1476.4 735.3 1480 738C1483.6 740.7 1492.2 749.9 1497.1 753.5C1502 757.1 1505.3 756.2 1509.4 759.6C1513.5 763 1517.5 764.7 1521.6 773.9C1525.7 783.1 1529.3 801.1 1533.9 814.7C1538.5 828.3 1544.5 853.5 1549.2 855.5C1554 857.5 1558.5 835.7 1562.4 827C1566.3 818.3 1568.5 801.2 1572.6 803.5C1576.7 805.8 1582.2 828.4 1587 841C1591.8 853.6 1596.8 876.6 1601.2 879C1605.6 881.4 1609.8 867.6 1613.5 855.5C1617.2 843.4 1620.3 821.8 1623.7 806.5C1627.1 791.2 1630.5 772 1633.9 763.7C1637.3 755.4 1640.7 756.9 1644.1 756.5C1647.5 756.1 1651.1 759.6 1654.3 761.6C1657.5 763.6 1660.1 771.2 1663.5 768.8C1666.9 766.4 1671.1 757 1674.7 747.3C1678.3 737.6 1681.5 718.4 1684.9 710.6C1688.3 702.8 1691.7 698.7 1695.1 700.4C1698.5 702.1 1701.7 712.7 1705.3 720.8C1708.9 728.9 1712 739.8 1716.7 749.1C1721.4 758.5 1728.1 767.9 1733.4 776.9C1738.7 785.9 1744.5 801 1748.7 803.3C1752.9 805.6 1754.9 802.6 1758.4 790.8C1761.9 779 1764.9 751.6 1769.6 732.4C1774.2 713.1 1781.2 682.3 1786.3 675.3C1791.4 668.3 1795.1 682.5 1800.2 690.6C1805.3 698.7 1811.8 709.6 1816.9 724C1822 738.4 1826.2 756 1830.8 776.9C1835.4 797.8 1839.6 826.1 1844.7 849.3C1849.8 872.5 1856.3 898.9 1861.4 916C1866.5 933.1 1870.7 952.2 1875.3 952.2C1879.9 952.2 1885 936.9 1889.2 916C1893.4 895.1 1896.2 856.7 1900.4 827C1904.6 797.3 1909.2 760.4 1914.3 737.9C1919.4 715.4 1925.9 697.6 1931 692C1936.1 686.4 1940.4 696.4 1945 704.5C1949.6 712.6 1953.2 730.5 1958.8 740.7C1964.3 750.9 1973.2 757.4 1978.3 765.8C1983.4 774.1 1987.6 786.6 1989.5 790.8" stroke="#000" stroke-width="2.2" stroke-dasharray="5,3.5"/>
</g>
<g stroke="#000" stroke-width="2.4" fill="none">
<path d="M1442.8 655L1442.8 1021.1L1989.8 1021.1"/>
<line x1="1434.3" y1="655" x2="1442.8" y2="655"/>
<line x1="1434.3" y1="777" x2="1442.8" y2="777"/>
<line x1="1434.3" y1="899" x2="1442.8" y2="899"/>
<line x1="1434.3" y1="1021.1" x2="1442.8" y2="1021.1"/>
<line x1="1442.8" y1="1021.1" x2="1442.8" y2="1029.9"/>
<line x1="1625.1" y1="1021.1" x2="1625.1" y2="1029.9"/>
<line x1="1807.5" y1="1021.1" x2="1807.5" y2="1029.9"/>
<line x1="1989.8" y1="1021.1" x2="1989.8" y2="1029.9"/>
<line x1="1534" y1="1021.1" x2="1534" y2="1025.9"/>
<line x1="1716.3" y1="1021.1" x2="1716.3" y2="1025.9"/>
<line x1="1898.7" y1="1021.1" x2="1898.7" y2="1025.9"/>
</g>
<g font-family="'Liberation Serif', 'Times New Roman', Times, serif" font-size="16" font-weight="bold" fill="#000">
<text x="1430.8" y="660.6" text-anchor="end">0.0005</text>
<text x="1430.8" y="782.6" text-anchor="end">0.0000</text>
<text x="1430.8" y="904.6" text-anchor="end">-0.0005</text>
<text x="1430.8" y="1026.7" text-anchor="end">-0.0010</text>
<text x="1442.8" y="1047.4" text-anchor="middle">1000</text>
<text x="1625.1" y="1047.4" text-anchor="middle">1100</text>
<text x="1807.5" y="1047.4" text-anchor="middle">1200</text>
<text x="1989.8" y="1047.4" text-anchor="middle">1300</text>
<text x="1716.3" y="1071.3" text-anchor="middle" font-size="18.6" textLength="147" lengthAdjust="spacingAndGlyphs">wavenumber (cm-1)</text>
<text transform="translate(1370.5,838.4) rotate(-90)" text-anchor="middle" font-size="21">2<tspan font-size="13" dy="-9.5">nd</tspan><tspan dy="9.5" dx="1">derivative</tspan></text>
</g>
<text transform="translate(1876.6 978.2) scale(1 1.2)" font-family="'Liberation Serif', 'Times New Roman', Times, serif" font-size="13.6" text-anchor="middle" font-weight="bold">1236</text>
<g font-family="'Liberation Serif', 'Times New Roman', Times, serif" font-size="18.5" fill="#000">
<line x1="1466" y1="930" x2="1490" y2="930" stroke="#000" stroke-width="2.2" stroke-dasharray="6,4.6"/>
<text x="1502" y="935.7" textLength="66.3" lengthAdjust="spacingAndGlyphs">Untreated</text>
<line x1="1466" y1="959.8" x2="1490" y2="959.8" stroke="#0000ff" stroke-width="2.2"/>
<text x="1502" y="966" textLength="90.9" lengthAdjust="spacingAndGlyphs">Sericin 26μg</text>
<line x1="1466" y1="989.1" x2="1490" y2="989.1" stroke="#ff0000" stroke-width="2.2"/>
<text x="1502" y="995.8" textLength="90.9" lengthAdjust="spacingAndGlyphs">Sericin 34μg</text>
</g>
</svg>
</body></html>
